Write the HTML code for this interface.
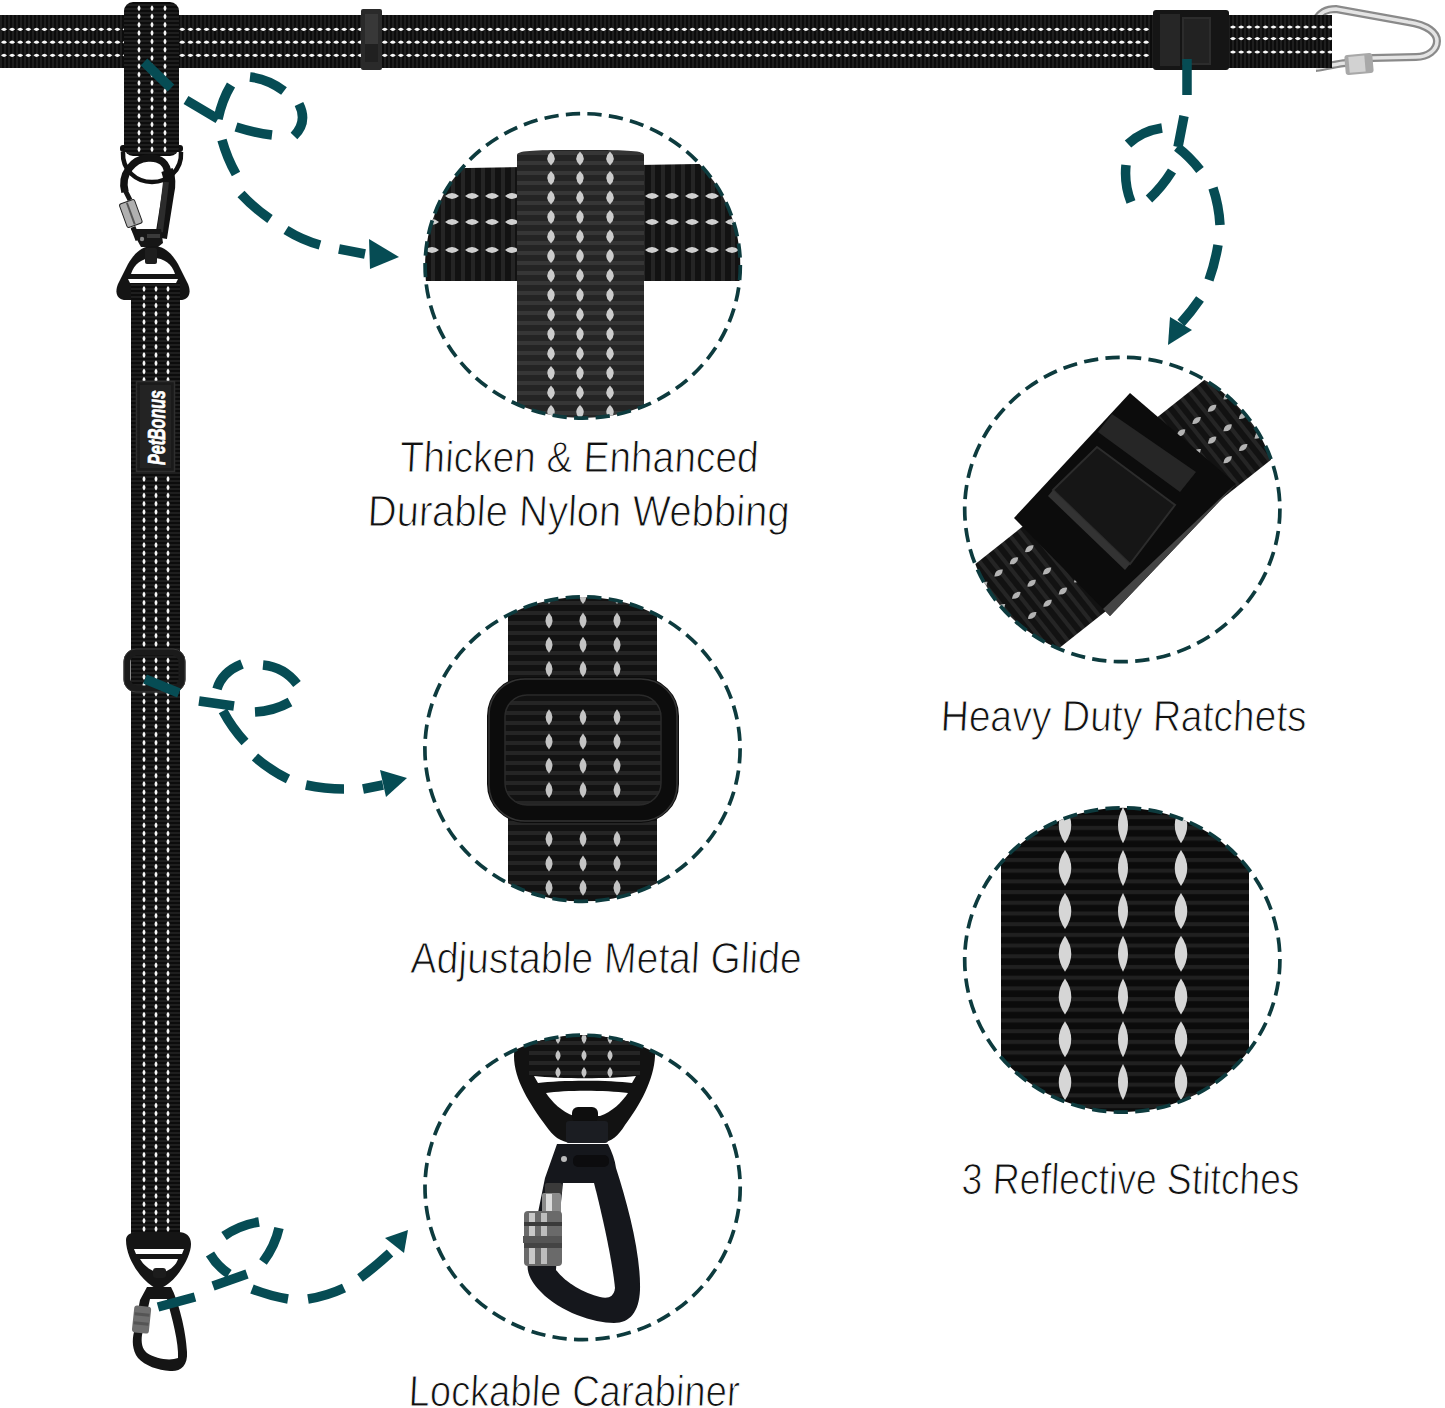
<!DOCTYPE html>
<html><head><meta charset="utf-8">
<style>
html,body{margin:0;padding:0;background:#fff;width:1445px;height:1408px;overflow:hidden}
svg{display:block}
text{font-family:"Liberation Sans",sans-serif}
</style></head>
<body>
<svg width="1445" height="1408" viewBox="0 0 1445 1408">
<defs>
  <pattern id="webH" width="4" height="4" patternUnits="userSpaceOnUse">
    <rect width="4" height="4" fill="#0c0c0c"/><rect width="2" height="4" fill="#1e1e1e"/>
  </pattern>
  <pattern id="webV" width="4" height="4" patternUnits="userSpaceOnUse">
    <rect width="4" height="4" fill="#0c0c0c"/><rect width="4" height="2" fill="#1e1e1e"/>
  </pattern>
  <pattern id="bigV" width="10" height="10" patternUnits="userSpaceOnUse">
    <rect width="10" height="10" fill="#121212"/><rect y="1" width="10" height="4" fill="#252525"/>
  </pattern>
  <pattern id="bigH" width="10" height="10" patternUnits="userSpaceOnUse">
    <rect width="10" height="10" fill="#121212"/><rect x="1" width="4" height="10" fill="#252525"/>
  </pattern>
  <pattern id="hugeV" width="11" height="10.7" patternUnits="userSpaceOnUse">
    <rect width="11" height="10.7" fill="#0b0b0b"/><rect y="2" width="11" height="4" fill="#202020"/>
  </pattern>
  <clipPath id="c1"><ellipse cx="582.7" cy="265.9" rx="157.6" ry="152.2"/></clipPath>
  <clipPath id="c2"><ellipse cx="582.5" cy="749.1" rx="157.6" ry="152.2"/></clipPath>
  <clipPath id="c3"><ellipse cx="582.6" cy="1187.4" rx="157.6" ry="152.2"/></clipPath>
  <clipPath id="c4"><ellipse cx="1122.3" cy="509.5" rx="157.6" ry="152.2"/></clipPath>
  <clipPath id="c5"><ellipse cx="1122.3" cy="960.0" rx="157.6" ry="152.2"/></clipPath>
</defs>

<path d="M1316,20 C1320,12 1326,9 1336,9 L1408,22 C1428,25 1437,33 1437,41 C1437,50 1428,57 1416,57 L1372,58 L1345,63 C1330,65 1320,68 1316,68" fill="none" stroke="#8a8a8a" stroke-width="8"/>
<path d="M1316,20 C1320,12 1326,9 1336,9 L1408,22 C1428,25 1437,33 1437,41 C1437,50 1428,57 1416,57 L1372,58 L1345,63 C1330,65 1320,68 1316,68" fill="none" stroke="#e4e4e4" stroke-width="3.5"/>
<rect x="1345" y="54" width="28" height="20" rx="3" fill="#a8a8a8" transform="rotate(-5 1359 64)"/>
<rect x="1349" y="56" width="16" height="16" fill="#d2d2d2" transform="rotate(-5 1359 64)"/>
<rect x="0" y="15" width="1332" height="53" fill="url(#webH)"/>
<path d="M1.0,29.3 Q4.0,32.5 7.0,29.3 Q4.0,26.1 1.0,29.3Z" fill="#f8f8f8"/><path d="M9.1,29.3 Q12.1,32.5 15.1,29.3 Q12.1,26.1 9.1,29.3Z" fill="#f8f8f8"/><path d="M17.2,29.3 Q20.2,32.5 23.2,29.3 Q20.2,26.1 17.2,29.3Z" fill="#f8f8f8"/><path d="M25.3,29.3 Q28.3,32.5 31.3,29.3 Q28.3,26.1 25.3,29.3Z" fill="#f8f8f8"/><path d="M33.5,29.3 Q36.5,32.5 39.5,29.3 Q36.5,26.1 33.5,29.3Z" fill="#f8f8f8"/><path d="M41.5,29.3 Q44.5,32.5 47.5,29.3 Q44.5,26.1 41.5,29.3Z" fill="#f8f8f8"/><path d="M49.6,29.3 Q52.6,32.5 55.6,29.3 Q52.6,26.1 49.6,29.3Z" fill="#f8f8f8"/><path d="M57.8,29.3 Q60.8,32.5 63.8,29.3 Q60.8,26.1 57.8,29.3Z" fill="#f8f8f8"/><path d="M65.8,29.3 Q68.8,32.5 71.8,29.3 Q68.8,26.1 65.8,29.3Z" fill="#f8f8f8"/><path d="M74.0,29.3 Q77.0,32.5 80.0,29.3 Q77.0,26.1 74.0,29.3Z" fill="#f8f8f8"/><path d="M82.0,29.3 Q85.0,32.5 88.0,29.3 Q85.0,26.1 82.0,29.3Z" fill="#f8f8f8"/><path d="M90.1,29.3 Q93.1,32.5 96.1,29.3 Q93.1,26.1 90.1,29.3Z" fill="#f8f8f8"/><path d="M98.2,29.3 Q101.2,32.5 104.2,29.3 Q101.2,26.1 98.2,29.3Z" fill="#f8f8f8"/><path d="M106.3,29.3 Q109.3,32.5 112.3,29.3 Q109.3,26.1 106.3,29.3Z" fill="#f8f8f8"/><path d="M114.4,29.3 Q117.4,32.5 120.4,29.3 Q117.4,26.1 114.4,29.3Z" fill="#f8f8f8"/><path d="M122.5,29.3 Q125.5,32.5 128.6,29.3 Q125.5,26.1 122.5,29.3Z" fill="#f8f8f8"/><path d="M130.7,29.3 Q133.7,32.5 136.7,29.3 Q133.7,26.1 130.7,29.3Z" fill="#f8f8f8"/><path d="M138.8,29.3 Q141.8,32.5 144.8,29.3 Q141.8,26.1 138.8,29.3Z" fill="#f8f8f8"/><path d="M146.8,29.3 Q149.8,32.5 152.8,29.3 Q149.8,26.1 146.8,29.3Z" fill="#f8f8f8"/><path d="M154.9,29.3 Q157.9,32.5 160.9,29.3 Q157.9,26.1 154.9,29.3Z" fill="#f8f8f8"/><path d="M163.0,29.3 Q166.0,32.5 169.0,29.3 Q166.0,26.1 163.0,29.3Z" fill="#f8f8f8"/><path d="M171.2,29.3 Q174.2,32.5 177.2,29.3 Q174.2,26.1 171.2,29.3Z" fill="#f8f8f8"/><path d="M179.2,29.3 Q182.2,32.5 185.2,29.3 Q182.2,26.1 179.2,29.3Z" fill="#f8f8f8"/><path d="M187.4,29.3 Q190.4,32.5 193.4,29.3 Q190.4,26.1 187.4,29.3Z" fill="#f8f8f8"/><path d="M195.4,29.3 Q198.4,32.5 201.4,29.3 Q198.4,26.1 195.4,29.3Z" fill="#f8f8f8"/><path d="M203.5,29.3 Q206.5,32.5 209.5,29.3 Q206.5,26.1 203.5,29.3Z" fill="#f8f8f8"/><path d="M211.6,29.3 Q214.6,32.5 217.6,29.3 Q214.6,26.1 211.6,29.3Z" fill="#f8f8f8"/><path d="M219.8,29.3 Q222.8,32.5 225.8,29.3 Q222.8,26.1 219.8,29.3Z" fill="#f8f8f8"/><path d="M227.8,29.3 Q230.8,32.5 233.8,29.3 Q230.8,26.1 227.8,29.3Z" fill="#f8f8f8"/><path d="M235.9,29.3 Q238.9,32.5 241.9,29.3 Q238.9,26.1 235.9,29.3Z" fill="#f8f8f8"/><path d="M244.0,29.3 Q247.0,32.5 250.0,29.3 Q247.0,26.1 244.0,29.3Z" fill="#f8f8f8"/><path d="M252.1,29.3 Q255.1,32.5 258.1,29.3 Q255.1,26.1 252.1,29.3Z" fill="#f8f8f8"/><path d="M260.2,29.3 Q263.2,32.5 266.2,29.3 Q263.2,26.1 260.2,29.3Z" fill="#f8f8f8"/><path d="M268.3,29.3 Q271.3,32.5 274.3,29.3 Q271.3,26.1 268.3,29.3Z" fill="#f8f8f8"/><path d="M276.4,29.3 Q279.4,32.5 282.4,29.3 Q279.4,26.1 276.4,29.3Z" fill="#f8f8f8"/><path d="M284.6,29.3 Q287.6,32.5 290.6,29.3 Q287.6,26.1 284.6,29.3Z" fill="#f8f8f8"/><path d="M292.6,29.3 Q295.6,32.5 298.6,29.3 Q295.6,26.1 292.6,29.3Z" fill="#f8f8f8"/><path d="M300.8,29.3 Q303.8,32.5 306.8,29.3 Q303.8,26.1 300.8,29.3Z" fill="#f8f8f8"/><path d="M308.8,29.3 Q311.8,32.5 314.8,29.3 Q311.8,26.1 308.8,29.3Z" fill="#f8f8f8"/><path d="M316.9,29.3 Q319.9,32.5 322.9,29.3 Q319.9,26.1 316.9,29.3Z" fill="#f8f8f8"/><path d="M325.1,29.3 Q328.1,32.5 331.1,29.3 Q328.1,26.1 325.1,29.3Z" fill="#f8f8f8"/><path d="M333.2,29.3 Q336.2,32.5 339.2,29.3 Q336.2,26.1 333.2,29.3Z" fill="#f8f8f8"/><path d="M341.2,29.3 Q344.2,32.5 347.2,29.3 Q344.2,26.1 341.2,29.3Z" fill="#f8f8f8"/><path d="M349.3,29.3 Q352.3,32.5 355.3,29.3 Q352.3,26.1 349.3,29.3Z" fill="#f8f8f8"/><path d="M357.4,29.3 Q360.4,32.5 363.4,29.3 Q360.4,26.1 357.4,29.3Z" fill="#f8f8f8"/><path d="M365.6,29.3 Q368.6,32.5 371.6,29.3 Q368.6,26.1 365.6,29.3Z" fill="#f8f8f8"/><path d="M373.6,29.3 Q376.6,32.5 379.6,29.3 Q376.6,26.1 373.6,29.3Z" fill="#f8f8f8"/><path d="M381.8,29.3 Q384.8,32.5 387.8,29.3 Q384.8,26.1 381.8,29.3Z" fill="#f8f8f8"/><path d="M389.8,29.3 Q392.8,32.5 395.8,29.3 Q392.8,26.1 389.8,29.3Z" fill="#f8f8f8"/><path d="M397.9,29.3 Q400.9,32.5 403.9,29.3 Q400.9,26.1 397.9,29.3Z" fill="#f8f8f8"/><path d="M406.0,29.3 Q409.0,32.5 412.0,29.3 Q409.0,26.1 406.0,29.3Z" fill="#f8f8f8"/><path d="M414.1,29.3 Q417.1,32.5 420.1,29.3 Q417.1,26.1 414.1,29.3Z" fill="#f8f8f8"/><path d="M422.3,29.3 Q425.3,32.5 428.3,29.3 Q425.3,26.1 422.3,29.3Z" fill="#f8f8f8"/><path d="M430.3,29.3 Q433.3,32.5 436.3,29.3 Q433.3,26.1 430.3,29.3Z" fill="#f8f8f8"/><path d="M438.4,29.3 Q441.4,32.5 444.4,29.3 Q441.4,26.1 438.4,29.3Z" fill="#f8f8f8"/><path d="M446.5,29.3 Q449.5,32.5 452.5,29.3 Q449.5,26.1 446.5,29.3Z" fill="#f8f8f8"/><path d="M454.6,29.3 Q457.6,32.5 460.6,29.3 Q457.6,26.1 454.6,29.3Z" fill="#f8f8f8"/><path d="M462.8,29.3 Q465.8,32.5 468.8,29.3 Q465.8,26.1 462.8,29.3Z" fill="#f8f8f8"/><path d="M470.8,29.3 Q473.8,32.5 476.8,29.3 Q473.8,26.1 470.8,29.3Z" fill="#f8f8f8"/><path d="M478.9,29.3 Q481.9,32.5 484.9,29.3 Q481.9,26.1 478.9,29.3Z" fill="#f8f8f8"/><path d="M487.0,29.3 Q490.0,32.5 493.0,29.3 Q490.0,26.1 487.0,29.3Z" fill="#f8f8f8"/><path d="M495.1,29.3 Q498.1,32.5 501.1,29.3 Q498.1,26.1 495.1,29.3Z" fill="#f8f8f8"/><path d="M503.2,29.3 Q506.2,32.5 509.2,29.3 Q506.2,26.1 503.2,29.3Z" fill="#f8f8f8"/><path d="M511.4,29.3 Q514.4,32.5 517.4,29.3 Q514.4,26.1 511.4,29.3Z" fill="#f8f8f8"/><path d="M519.4,29.3 Q522.4,32.5 525.4,29.3 Q522.4,26.1 519.4,29.3Z" fill="#f8f8f8"/><path d="M527.5,29.3 Q530.5,32.5 533.5,29.3 Q530.5,26.1 527.5,29.3Z" fill="#f8f8f8"/><path d="M535.6,29.3 Q538.6,32.5 541.6,29.3 Q538.6,26.1 535.6,29.3Z" fill="#f8f8f8"/><path d="M543.8,29.3 Q546.8,32.5 549.8,29.3 Q546.8,26.1 543.8,29.3Z" fill="#f8f8f8"/><path d="M551.9,29.3 Q554.9,32.5 557.9,29.3 Q554.9,26.1 551.9,29.3Z" fill="#f8f8f8"/><path d="M559.9,29.3 Q562.9,32.5 565.9,29.3 Q562.9,26.1 559.9,29.3Z" fill="#f8f8f8"/><path d="M568.0,29.3 Q571.0,32.5 574.0,29.3 Q571.0,26.1 568.0,29.3Z" fill="#f8f8f8"/><path d="M576.1,29.3 Q579.1,32.5 582.1,29.3 Q579.1,26.1 576.1,29.3Z" fill="#f8f8f8"/><path d="M584.2,29.3 Q587.2,32.5 590.2,29.3 Q587.2,26.1 584.2,29.3Z" fill="#f8f8f8"/><path d="M592.4,29.3 Q595.4,32.5 598.4,29.3 Q595.4,26.1 592.4,29.3Z" fill="#f8f8f8"/><path d="M600.4,29.3 Q603.4,32.5 606.4,29.3 Q603.4,26.1 600.4,29.3Z" fill="#f8f8f8"/><path d="M608.5,29.3 Q611.5,32.5 614.5,29.3 Q611.5,26.1 608.5,29.3Z" fill="#f8f8f8"/><path d="M616.6,29.3 Q619.6,32.5 622.6,29.3 Q619.6,26.1 616.6,29.3Z" fill="#f8f8f8"/><path d="M624.8,29.3 Q627.8,32.5 630.8,29.3 Q627.8,26.1 624.8,29.3Z" fill="#f8f8f8"/><path d="M632.8,29.3 Q635.8,32.5 638.8,29.3 Q635.8,26.1 632.8,29.3Z" fill="#f8f8f8"/><path d="M640.9,29.3 Q643.9,32.5 646.9,29.3 Q643.9,26.1 640.9,29.3Z" fill="#f8f8f8"/><path d="M649.0,29.3 Q652.0,32.5 655.0,29.3 Q652.0,26.1 649.0,29.3Z" fill="#f8f8f8"/><path d="M657.1,29.3 Q660.1,32.5 663.1,29.3 Q660.1,26.1 657.1,29.3Z" fill="#f8f8f8"/><path d="M665.2,29.3 Q668.2,32.5 671.2,29.3 Q668.2,26.1 665.2,29.3Z" fill="#f8f8f8"/><path d="M673.4,29.3 Q676.4,32.5 679.4,29.3 Q676.4,26.1 673.4,29.3Z" fill="#f8f8f8"/><path d="M681.4,29.3 Q684.4,32.5 687.4,29.3 Q684.4,26.1 681.4,29.3Z" fill="#f8f8f8"/><path d="M689.5,29.3 Q692.5,32.5 695.5,29.3 Q692.5,26.1 689.5,29.3Z" fill="#f8f8f8"/><path d="M697.6,29.3 Q700.6,32.5 703.6,29.3 Q700.6,26.1 697.6,29.3Z" fill="#f8f8f8"/><path d="M705.7,29.3 Q708.7,32.5 711.7,29.3 Q708.7,26.1 705.7,29.3Z" fill="#f8f8f8"/><path d="M713.9,29.3 Q716.9,32.5 719.9,29.3 Q716.9,26.1 713.9,29.3Z" fill="#f8f8f8"/><path d="M721.9,29.3 Q724.9,32.5 727.9,29.3 Q724.9,26.1 721.9,29.3Z" fill="#f8f8f8"/><path d="M730.0,29.3 Q733.0,32.5 736.0,29.3 Q733.0,26.1 730.0,29.3Z" fill="#f8f8f8"/><path d="M738.1,29.3 Q741.1,32.5 744.1,29.3 Q741.1,26.1 738.1,29.3Z" fill="#f8f8f8"/><path d="M746.2,29.3 Q749.2,32.5 752.2,29.3 Q749.2,26.1 746.2,29.3Z" fill="#f8f8f8"/><path d="M754.4,29.3 Q757.4,32.5 760.4,29.3 Q757.4,26.1 754.4,29.3Z" fill="#f8f8f8"/><path d="M762.4,29.3 Q765.4,32.5 768.4,29.3 Q765.4,26.1 762.4,29.3Z" fill="#f8f8f8"/><path d="M770.5,29.3 Q773.5,32.5 776.5,29.3 Q773.5,26.1 770.5,29.3Z" fill="#f8f8f8"/><path d="M778.6,29.3 Q781.6,32.5 784.6,29.3 Q781.6,26.1 778.6,29.3Z" fill="#f8f8f8"/><path d="M786.8,29.3 Q789.8,32.5 792.8,29.3 Q789.8,26.1 786.8,29.3Z" fill="#f8f8f8"/><path d="M794.8,29.3 Q797.8,32.5 800.8,29.3 Q797.8,26.1 794.8,29.3Z" fill="#f8f8f8"/><path d="M802.9,29.3 Q805.9,32.5 808.9,29.3 Q805.9,26.1 802.9,29.3Z" fill="#f8f8f8"/><path d="M811.0,29.3 Q814.0,32.5 817.0,29.3 Q814.0,26.1 811.0,29.3Z" fill="#f8f8f8"/><path d="M819.1,29.3 Q822.1,32.5 825.1,29.3 Q822.1,26.1 819.1,29.3Z" fill="#f8f8f8"/><path d="M827.2,29.3 Q830.2,32.5 833.2,29.3 Q830.2,26.1 827.2,29.3Z" fill="#f8f8f8"/><path d="M835.3,29.3 Q838.3,32.5 841.3,29.3 Q838.3,26.1 835.3,29.3Z" fill="#f8f8f8"/><path d="M843.4,29.3 Q846.4,32.5 849.4,29.3 Q846.4,26.1 843.4,29.3Z" fill="#f8f8f8"/><path d="M851.5,29.3 Q854.5,32.5 857.5,29.3 Q854.5,26.1 851.5,29.3Z" fill="#f8f8f8"/><path d="M859.6,29.3 Q862.6,32.5 865.6,29.3 Q862.6,26.1 859.6,29.3Z" fill="#f8f8f8"/><path d="M867.8,29.3 Q870.8,32.5 873.8,29.3 Q870.8,26.1 867.8,29.3Z" fill="#f8f8f8"/><path d="M875.8,29.3 Q878.8,32.5 881.8,29.3 Q878.8,26.1 875.8,29.3Z" fill="#f8f8f8"/><path d="M883.9,29.3 Q886.9,32.5 889.9,29.3 Q886.9,26.1 883.9,29.3Z" fill="#f8f8f8"/><path d="M892.0,29.3 Q895.0,32.5 898.0,29.3 Q895.0,26.1 892.0,29.3Z" fill="#f8f8f8"/><path d="M900.1,29.3 Q903.1,32.5 906.1,29.3 Q903.1,26.1 900.1,29.3Z" fill="#f8f8f8"/><path d="M908.2,29.3 Q911.2,32.5 914.2,29.3 Q911.2,26.1 908.2,29.3Z" fill="#f8f8f8"/><path d="M916.3,29.3 Q919.3,32.5 922.3,29.3 Q919.3,26.1 916.3,29.3Z" fill="#f8f8f8"/><path d="M924.4,29.3 Q927.4,32.5 930.4,29.3 Q927.4,26.1 924.4,29.3Z" fill="#f8f8f8"/><path d="M932.5,29.3 Q935.5,32.5 938.5,29.3 Q935.5,26.1 932.5,29.3Z" fill="#f8f8f8"/><path d="M940.6,29.3 Q943.6,32.5 946.6,29.3 Q943.6,26.1 940.6,29.3Z" fill="#f8f8f8"/><path d="M948.8,29.3 Q951.8,32.5 954.8,29.3 Q951.8,26.1 948.8,29.3Z" fill="#f8f8f8"/><path d="M956.9,29.3 Q959.9,32.5 962.9,29.3 Q959.9,26.1 956.9,29.3Z" fill="#f8f8f8"/><path d="M964.9,29.3 Q967.9,32.5 970.9,29.3 Q967.9,26.1 964.9,29.3Z" fill="#f8f8f8"/><path d="M973.0,29.3 Q976.0,32.5 979.0,29.3 Q976.0,26.1 973.0,29.3Z" fill="#f8f8f8"/><path d="M981.1,29.3 Q984.1,32.5 987.1,29.3 Q984.1,26.1 981.1,29.3Z" fill="#f8f8f8"/><path d="M989.2,29.3 Q992.2,32.5 995.2,29.3 Q992.2,26.1 989.2,29.3Z" fill="#f8f8f8"/><path d="M997.3,29.3 Q1000.3,32.5 1003.3,29.3 Q1000.3,26.1 997.3,29.3Z" fill="#f8f8f8"/><path d="M1005.4,29.3 Q1008.4,32.5 1011.4,29.3 Q1008.4,26.1 1005.4,29.3Z" fill="#f8f8f8"/><path d="M1013.5,29.3 Q1016.5,32.5 1019.5,29.3 Q1016.5,26.1 1013.5,29.3Z" fill="#f8f8f8"/><path d="M1021.6,29.3 Q1024.6,32.5 1027.6,29.3 Q1024.6,26.1 1021.6,29.3Z" fill="#f8f8f8"/><path d="M1029.8,29.3 Q1032.8,32.5 1035.8,29.3 Q1032.8,26.1 1029.8,29.3Z" fill="#f8f8f8"/><path d="M1037.8,29.3 Q1040.8,32.5 1043.8,29.3 Q1040.8,26.1 1037.8,29.3Z" fill="#f8f8f8"/><path d="M1046.0,29.3 Q1049.0,32.5 1052.0,29.3 Q1049.0,26.1 1046.0,29.3Z" fill="#f8f8f8"/><path d="M1054.0,29.3 Q1057.0,32.5 1060.0,29.3 Q1057.0,26.1 1054.0,29.3Z" fill="#f8f8f8"/><path d="M1062.1,29.3 Q1065.1,32.5 1068.1,29.3 Q1065.1,26.1 1062.1,29.3Z" fill="#f8f8f8"/><path d="M1070.2,29.3 Q1073.2,32.5 1076.2,29.3 Q1073.2,26.1 1070.2,29.3Z" fill="#f8f8f8"/><path d="M1078.3,29.3 Q1081.3,32.5 1084.3,29.3 Q1081.3,26.1 1078.3,29.3Z" fill="#f8f8f8"/><path d="M1086.5,29.3 Q1089.5,32.5 1092.5,29.3 Q1089.5,26.1 1086.5,29.3Z" fill="#f8f8f8"/><path d="M1094.5,29.3 Q1097.5,32.5 1100.5,29.3 Q1097.5,26.1 1094.5,29.3Z" fill="#f8f8f8"/><path d="M1102.6,29.3 Q1105.6,32.5 1108.6,29.3 Q1105.6,26.1 1102.6,29.3Z" fill="#f8f8f8"/><path d="M1110.8,29.3 Q1113.8,32.5 1116.8,29.3 Q1113.8,26.1 1110.8,29.3Z" fill="#f8f8f8"/><path d="M1118.8,29.3 Q1121.8,32.5 1124.8,29.3 Q1121.8,26.1 1118.8,29.3Z" fill="#f8f8f8"/><path d="M1127.0,29.3 Q1130.0,32.5 1133.0,29.3 Q1130.0,26.1 1127.0,29.3Z" fill="#f8f8f8"/><path d="M1135.0,29.3 Q1138.0,32.5 1141.0,29.3 Q1138.0,26.1 1135.0,29.3Z" fill="#f8f8f8"/><path d="M1143.1,29.3 Q1146.1,32.5 1149.1,29.3 Q1146.1,26.1 1143.1,29.3Z" fill="#f8f8f8"/>
<path d="M1.0,42.2 Q4.0,45.4 7.0,42.2 Q4.0,39.0 1.0,42.2Z" fill="#f8f8f8"/><path d="M9.1,42.2 Q12.1,45.4 15.1,42.2 Q12.1,39.0 9.1,42.2Z" fill="#f8f8f8"/><path d="M17.2,42.2 Q20.2,45.4 23.2,42.2 Q20.2,39.0 17.2,42.2Z" fill="#f8f8f8"/><path d="M25.3,42.2 Q28.3,45.4 31.3,42.2 Q28.3,39.0 25.3,42.2Z" fill="#f8f8f8"/><path d="M33.5,42.2 Q36.5,45.4 39.5,42.2 Q36.5,39.0 33.5,42.2Z" fill="#f8f8f8"/><path d="M41.5,42.2 Q44.5,45.4 47.5,42.2 Q44.5,39.0 41.5,42.2Z" fill="#f8f8f8"/><path d="M49.6,42.2 Q52.6,45.4 55.6,42.2 Q52.6,39.0 49.6,42.2Z" fill="#f8f8f8"/><path d="M57.8,42.2 Q60.8,45.4 63.8,42.2 Q60.8,39.0 57.8,42.2Z" fill="#f8f8f8"/><path d="M65.8,42.2 Q68.8,45.4 71.8,42.2 Q68.8,39.0 65.8,42.2Z" fill="#f8f8f8"/><path d="M74.0,42.2 Q77.0,45.4 80.0,42.2 Q77.0,39.0 74.0,42.2Z" fill="#f8f8f8"/><path d="M82.0,42.2 Q85.0,45.4 88.0,42.2 Q85.0,39.0 82.0,42.2Z" fill="#f8f8f8"/><path d="M90.1,42.2 Q93.1,45.4 96.1,42.2 Q93.1,39.0 90.1,42.2Z" fill="#f8f8f8"/><path d="M98.2,42.2 Q101.2,45.4 104.2,42.2 Q101.2,39.0 98.2,42.2Z" fill="#f8f8f8"/><path d="M106.3,42.2 Q109.3,45.4 112.3,42.2 Q109.3,39.0 106.3,42.2Z" fill="#f8f8f8"/><path d="M114.4,42.2 Q117.4,45.4 120.4,42.2 Q117.4,39.0 114.4,42.2Z" fill="#f8f8f8"/><path d="M122.5,42.2 Q125.5,45.4 128.6,42.2 Q125.5,39.0 122.5,42.2Z" fill="#f8f8f8"/><path d="M130.7,42.2 Q133.7,45.4 136.7,42.2 Q133.7,39.0 130.7,42.2Z" fill="#f8f8f8"/><path d="M138.8,42.2 Q141.8,45.4 144.8,42.2 Q141.8,39.0 138.8,42.2Z" fill="#f8f8f8"/><path d="M146.8,42.2 Q149.8,45.4 152.8,42.2 Q149.8,39.0 146.8,42.2Z" fill="#f8f8f8"/><path d="M154.9,42.2 Q157.9,45.4 160.9,42.2 Q157.9,39.0 154.9,42.2Z" fill="#f8f8f8"/><path d="M163.0,42.2 Q166.0,45.4 169.0,42.2 Q166.0,39.0 163.0,42.2Z" fill="#f8f8f8"/><path d="M171.2,42.2 Q174.2,45.4 177.2,42.2 Q174.2,39.0 171.2,42.2Z" fill="#f8f8f8"/><path d="M179.2,42.2 Q182.2,45.4 185.2,42.2 Q182.2,39.0 179.2,42.2Z" fill="#f8f8f8"/><path d="M187.4,42.2 Q190.4,45.4 193.4,42.2 Q190.4,39.0 187.4,42.2Z" fill="#f8f8f8"/><path d="M195.4,42.2 Q198.4,45.4 201.4,42.2 Q198.4,39.0 195.4,42.2Z" fill="#f8f8f8"/><path d="M203.5,42.2 Q206.5,45.4 209.5,42.2 Q206.5,39.0 203.5,42.2Z" fill="#f8f8f8"/><path d="M211.6,42.2 Q214.6,45.4 217.6,42.2 Q214.6,39.0 211.6,42.2Z" fill="#f8f8f8"/><path d="M219.8,42.2 Q222.8,45.4 225.8,42.2 Q222.8,39.0 219.8,42.2Z" fill="#f8f8f8"/><path d="M227.8,42.2 Q230.8,45.4 233.8,42.2 Q230.8,39.0 227.8,42.2Z" fill="#f8f8f8"/><path d="M235.9,42.2 Q238.9,45.4 241.9,42.2 Q238.9,39.0 235.9,42.2Z" fill="#f8f8f8"/><path d="M244.0,42.2 Q247.0,45.4 250.0,42.2 Q247.0,39.0 244.0,42.2Z" fill="#f8f8f8"/><path d="M252.1,42.2 Q255.1,45.4 258.1,42.2 Q255.1,39.0 252.1,42.2Z" fill="#f8f8f8"/><path d="M260.2,42.2 Q263.2,45.4 266.2,42.2 Q263.2,39.0 260.2,42.2Z" fill="#f8f8f8"/><path d="M268.3,42.2 Q271.3,45.4 274.3,42.2 Q271.3,39.0 268.3,42.2Z" fill="#f8f8f8"/><path d="M276.4,42.2 Q279.4,45.4 282.4,42.2 Q279.4,39.0 276.4,42.2Z" fill="#f8f8f8"/><path d="M284.6,42.2 Q287.6,45.4 290.6,42.2 Q287.6,39.0 284.6,42.2Z" fill="#f8f8f8"/><path d="M292.6,42.2 Q295.6,45.4 298.6,42.2 Q295.6,39.0 292.6,42.2Z" fill="#f8f8f8"/><path d="M300.8,42.2 Q303.8,45.4 306.8,42.2 Q303.8,39.0 300.8,42.2Z" fill="#f8f8f8"/><path d="M308.8,42.2 Q311.8,45.4 314.8,42.2 Q311.8,39.0 308.8,42.2Z" fill="#f8f8f8"/><path d="M316.9,42.2 Q319.9,45.4 322.9,42.2 Q319.9,39.0 316.9,42.2Z" fill="#f8f8f8"/><path d="M325.1,42.2 Q328.1,45.4 331.1,42.2 Q328.1,39.0 325.1,42.2Z" fill="#f8f8f8"/><path d="M333.2,42.2 Q336.2,45.4 339.2,42.2 Q336.2,39.0 333.2,42.2Z" fill="#f8f8f8"/><path d="M341.2,42.2 Q344.2,45.4 347.2,42.2 Q344.2,39.0 341.2,42.2Z" fill="#f8f8f8"/><path d="M349.3,42.2 Q352.3,45.4 355.3,42.2 Q352.3,39.0 349.3,42.2Z" fill="#f8f8f8"/><path d="M357.4,42.2 Q360.4,45.4 363.4,42.2 Q360.4,39.0 357.4,42.2Z" fill="#f8f8f8"/><path d="M365.6,42.2 Q368.6,45.4 371.6,42.2 Q368.6,39.0 365.6,42.2Z" fill="#f8f8f8"/><path d="M373.6,42.2 Q376.6,45.4 379.6,42.2 Q376.6,39.0 373.6,42.2Z" fill="#f8f8f8"/><path d="M381.8,42.2 Q384.8,45.4 387.8,42.2 Q384.8,39.0 381.8,42.2Z" fill="#f8f8f8"/><path d="M389.8,42.2 Q392.8,45.4 395.8,42.2 Q392.8,39.0 389.8,42.2Z" fill="#f8f8f8"/><path d="M397.9,42.2 Q400.9,45.4 403.9,42.2 Q400.9,39.0 397.9,42.2Z" fill="#f8f8f8"/><path d="M406.0,42.2 Q409.0,45.4 412.0,42.2 Q409.0,39.0 406.0,42.2Z" fill="#f8f8f8"/><path d="M414.1,42.2 Q417.1,45.4 420.1,42.2 Q417.1,39.0 414.1,42.2Z" fill="#f8f8f8"/><path d="M422.3,42.2 Q425.3,45.4 428.3,42.2 Q425.3,39.0 422.3,42.2Z" fill="#f8f8f8"/><path d="M430.3,42.2 Q433.3,45.4 436.3,42.2 Q433.3,39.0 430.3,42.2Z" fill="#f8f8f8"/><path d="M438.4,42.2 Q441.4,45.4 444.4,42.2 Q441.4,39.0 438.4,42.2Z" fill="#f8f8f8"/><path d="M446.5,42.2 Q449.5,45.4 452.5,42.2 Q449.5,39.0 446.5,42.2Z" fill="#f8f8f8"/><path d="M454.6,42.2 Q457.6,45.4 460.6,42.2 Q457.6,39.0 454.6,42.2Z" fill="#f8f8f8"/><path d="M462.8,42.2 Q465.8,45.4 468.8,42.2 Q465.8,39.0 462.8,42.2Z" fill="#f8f8f8"/><path d="M470.8,42.2 Q473.8,45.4 476.8,42.2 Q473.8,39.0 470.8,42.2Z" fill="#f8f8f8"/><path d="M478.9,42.2 Q481.9,45.4 484.9,42.2 Q481.9,39.0 478.9,42.2Z" fill="#f8f8f8"/><path d="M487.0,42.2 Q490.0,45.4 493.0,42.2 Q490.0,39.0 487.0,42.2Z" fill="#f8f8f8"/><path d="M495.1,42.2 Q498.1,45.4 501.1,42.2 Q498.1,39.0 495.1,42.2Z" fill="#f8f8f8"/><path d="M503.2,42.2 Q506.2,45.4 509.2,42.2 Q506.2,39.0 503.2,42.2Z" fill="#f8f8f8"/><path d="M511.4,42.2 Q514.4,45.4 517.4,42.2 Q514.4,39.0 511.4,42.2Z" fill="#f8f8f8"/><path d="M519.4,42.2 Q522.4,45.4 525.4,42.2 Q522.4,39.0 519.4,42.2Z" fill="#f8f8f8"/><path d="M527.5,42.2 Q530.5,45.4 533.5,42.2 Q530.5,39.0 527.5,42.2Z" fill="#f8f8f8"/><path d="M535.6,42.2 Q538.6,45.4 541.6,42.2 Q538.6,39.0 535.6,42.2Z" fill="#f8f8f8"/><path d="M543.8,42.2 Q546.8,45.4 549.8,42.2 Q546.8,39.0 543.8,42.2Z" fill="#f8f8f8"/><path d="M551.9,42.2 Q554.9,45.4 557.9,42.2 Q554.9,39.0 551.9,42.2Z" fill="#f8f8f8"/><path d="M559.9,42.2 Q562.9,45.4 565.9,42.2 Q562.9,39.0 559.9,42.2Z" fill="#f8f8f8"/><path d="M568.0,42.2 Q571.0,45.4 574.0,42.2 Q571.0,39.0 568.0,42.2Z" fill="#f8f8f8"/><path d="M576.1,42.2 Q579.1,45.4 582.1,42.2 Q579.1,39.0 576.1,42.2Z" fill="#f8f8f8"/><path d="M584.2,42.2 Q587.2,45.4 590.2,42.2 Q587.2,39.0 584.2,42.2Z" fill="#f8f8f8"/><path d="M592.4,42.2 Q595.4,45.4 598.4,42.2 Q595.4,39.0 592.4,42.2Z" fill="#f8f8f8"/><path d="M600.4,42.2 Q603.4,45.4 606.4,42.2 Q603.4,39.0 600.4,42.2Z" fill="#f8f8f8"/><path d="M608.5,42.2 Q611.5,45.4 614.5,42.2 Q611.5,39.0 608.5,42.2Z" fill="#f8f8f8"/><path d="M616.6,42.2 Q619.6,45.4 622.6,42.2 Q619.6,39.0 616.6,42.2Z" fill="#f8f8f8"/><path d="M624.8,42.2 Q627.8,45.4 630.8,42.2 Q627.8,39.0 624.8,42.2Z" fill="#f8f8f8"/><path d="M632.8,42.2 Q635.8,45.4 638.8,42.2 Q635.8,39.0 632.8,42.2Z" fill="#f8f8f8"/><path d="M640.9,42.2 Q643.9,45.4 646.9,42.2 Q643.9,39.0 640.9,42.2Z" fill="#f8f8f8"/><path d="M649.0,42.2 Q652.0,45.4 655.0,42.2 Q652.0,39.0 649.0,42.2Z" fill="#f8f8f8"/><path d="M657.1,42.2 Q660.1,45.4 663.1,42.2 Q660.1,39.0 657.1,42.2Z" fill="#f8f8f8"/><path d="M665.2,42.2 Q668.2,45.4 671.2,42.2 Q668.2,39.0 665.2,42.2Z" fill="#f8f8f8"/><path d="M673.4,42.2 Q676.4,45.4 679.4,42.2 Q676.4,39.0 673.4,42.2Z" fill="#f8f8f8"/><path d="M681.4,42.2 Q684.4,45.4 687.4,42.2 Q684.4,39.0 681.4,42.2Z" fill="#f8f8f8"/><path d="M689.5,42.2 Q692.5,45.4 695.5,42.2 Q692.5,39.0 689.5,42.2Z" fill="#f8f8f8"/><path d="M697.6,42.2 Q700.6,45.4 703.6,42.2 Q700.6,39.0 697.6,42.2Z" fill="#f8f8f8"/><path d="M705.7,42.2 Q708.7,45.4 711.7,42.2 Q708.7,39.0 705.7,42.2Z" fill="#f8f8f8"/><path d="M713.9,42.2 Q716.9,45.4 719.9,42.2 Q716.9,39.0 713.9,42.2Z" fill="#f8f8f8"/><path d="M721.9,42.2 Q724.9,45.4 727.9,42.2 Q724.9,39.0 721.9,42.2Z" fill="#f8f8f8"/><path d="M730.0,42.2 Q733.0,45.4 736.0,42.2 Q733.0,39.0 730.0,42.2Z" fill="#f8f8f8"/><path d="M738.1,42.2 Q741.1,45.4 744.1,42.2 Q741.1,39.0 738.1,42.2Z" fill="#f8f8f8"/><path d="M746.2,42.2 Q749.2,45.4 752.2,42.2 Q749.2,39.0 746.2,42.2Z" fill="#f8f8f8"/><path d="M754.4,42.2 Q757.4,45.4 760.4,42.2 Q757.4,39.0 754.4,42.2Z" fill="#f8f8f8"/><path d="M762.4,42.2 Q765.4,45.4 768.4,42.2 Q765.4,39.0 762.4,42.2Z" fill="#f8f8f8"/><path d="M770.5,42.2 Q773.5,45.4 776.5,42.2 Q773.5,39.0 770.5,42.2Z" fill="#f8f8f8"/><path d="M778.6,42.2 Q781.6,45.4 784.6,42.2 Q781.6,39.0 778.6,42.2Z" fill="#f8f8f8"/><path d="M786.8,42.2 Q789.8,45.4 792.8,42.2 Q789.8,39.0 786.8,42.2Z" fill="#f8f8f8"/><path d="M794.8,42.2 Q797.8,45.4 800.8,42.2 Q797.8,39.0 794.8,42.2Z" fill="#f8f8f8"/><path d="M802.9,42.2 Q805.9,45.4 808.9,42.2 Q805.9,39.0 802.9,42.2Z" fill="#f8f8f8"/><path d="M811.0,42.2 Q814.0,45.4 817.0,42.2 Q814.0,39.0 811.0,42.2Z" fill="#f8f8f8"/><path d="M819.1,42.2 Q822.1,45.4 825.1,42.2 Q822.1,39.0 819.1,42.2Z" fill="#f8f8f8"/><path d="M827.2,42.2 Q830.2,45.4 833.2,42.2 Q830.2,39.0 827.2,42.2Z" fill="#f8f8f8"/><path d="M835.3,42.2 Q838.3,45.4 841.3,42.2 Q838.3,39.0 835.3,42.2Z" fill="#f8f8f8"/><path d="M843.4,42.2 Q846.4,45.4 849.4,42.2 Q846.4,39.0 843.4,42.2Z" fill="#f8f8f8"/><path d="M851.5,42.2 Q854.5,45.4 857.5,42.2 Q854.5,39.0 851.5,42.2Z" fill="#f8f8f8"/><path d="M859.6,42.2 Q862.6,45.4 865.6,42.2 Q862.6,39.0 859.6,42.2Z" fill="#f8f8f8"/><path d="M867.8,42.2 Q870.8,45.4 873.8,42.2 Q870.8,39.0 867.8,42.2Z" fill="#f8f8f8"/><path d="M875.8,42.2 Q878.8,45.4 881.8,42.2 Q878.8,39.0 875.8,42.2Z" fill="#f8f8f8"/><path d="M883.9,42.2 Q886.9,45.4 889.9,42.2 Q886.9,39.0 883.9,42.2Z" fill="#f8f8f8"/><path d="M892.0,42.2 Q895.0,45.4 898.0,42.2 Q895.0,39.0 892.0,42.2Z" fill="#f8f8f8"/><path d="M900.1,42.2 Q903.1,45.4 906.1,42.2 Q903.1,39.0 900.1,42.2Z" fill="#f8f8f8"/><path d="M908.2,42.2 Q911.2,45.4 914.2,42.2 Q911.2,39.0 908.2,42.2Z" fill="#f8f8f8"/><path d="M916.3,42.2 Q919.3,45.4 922.3,42.2 Q919.3,39.0 916.3,42.2Z" fill="#f8f8f8"/><path d="M924.4,42.2 Q927.4,45.4 930.4,42.2 Q927.4,39.0 924.4,42.2Z" fill="#f8f8f8"/><path d="M932.5,42.2 Q935.5,45.4 938.5,42.2 Q935.5,39.0 932.5,42.2Z" fill="#f8f8f8"/><path d="M940.6,42.2 Q943.6,45.4 946.6,42.2 Q943.6,39.0 940.6,42.2Z" fill="#f8f8f8"/><path d="M948.8,42.2 Q951.8,45.4 954.8,42.2 Q951.8,39.0 948.8,42.2Z" fill="#f8f8f8"/><path d="M956.9,42.2 Q959.9,45.4 962.9,42.2 Q959.9,39.0 956.9,42.2Z" fill="#f8f8f8"/><path d="M964.9,42.2 Q967.9,45.4 970.9,42.2 Q967.9,39.0 964.9,42.2Z" fill="#f8f8f8"/><path d="M973.0,42.2 Q976.0,45.4 979.0,42.2 Q976.0,39.0 973.0,42.2Z" fill="#f8f8f8"/><path d="M981.1,42.2 Q984.1,45.4 987.1,42.2 Q984.1,39.0 981.1,42.2Z" fill="#f8f8f8"/><path d="M989.2,42.2 Q992.2,45.4 995.2,42.2 Q992.2,39.0 989.2,42.2Z" fill="#f8f8f8"/><path d="M997.3,42.2 Q1000.3,45.4 1003.3,42.2 Q1000.3,39.0 997.3,42.2Z" fill="#f8f8f8"/><path d="M1005.4,42.2 Q1008.4,45.4 1011.4,42.2 Q1008.4,39.0 1005.4,42.2Z" fill="#f8f8f8"/><path d="M1013.5,42.2 Q1016.5,45.4 1019.5,42.2 Q1016.5,39.0 1013.5,42.2Z" fill="#f8f8f8"/><path d="M1021.6,42.2 Q1024.6,45.4 1027.6,42.2 Q1024.6,39.0 1021.6,42.2Z" fill="#f8f8f8"/><path d="M1029.8,42.2 Q1032.8,45.4 1035.8,42.2 Q1032.8,39.0 1029.8,42.2Z" fill="#f8f8f8"/><path d="M1037.8,42.2 Q1040.8,45.4 1043.8,42.2 Q1040.8,39.0 1037.8,42.2Z" fill="#f8f8f8"/><path d="M1046.0,42.2 Q1049.0,45.4 1052.0,42.2 Q1049.0,39.0 1046.0,42.2Z" fill="#f8f8f8"/><path d="M1054.0,42.2 Q1057.0,45.4 1060.0,42.2 Q1057.0,39.0 1054.0,42.2Z" fill="#f8f8f8"/><path d="M1062.1,42.2 Q1065.1,45.4 1068.1,42.2 Q1065.1,39.0 1062.1,42.2Z" fill="#f8f8f8"/><path d="M1070.2,42.2 Q1073.2,45.4 1076.2,42.2 Q1073.2,39.0 1070.2,42.2Z" fill="#f8f8f8"/><path d="M1078.3,42.2 Q1081.3,45.4 1084.3,42.2 Q1081.3,39.0 1078.3,42.2Z" fill="#f8f8f8"/><path d="M1086.5,42.2 Q1089.5,45.4 1092.5,42.2 Q1089.5,39.0 1086.5,42.2Z" fill="#f8f8f8"/><path d="M1094.5,42.2 Q1097.5,45.4 1100.5,42.2 Q1097.5,39.0 1094.5,42.2Z" fill="#f8f8f8"/><path d="M1102.6,42.2 Q1105.6,45.4 1108.6,42.2 Q1105.6,39.0 1102.6,42.2Z" fill="#f8f8f8"/><path d="M1110.8,42.2 Q1113.8,45.4 1116.8,42.2 Q1113.8,39.0 1110.8,42.2Z" fill="#f8f8f8"/><path d="M1118.8,42.2 Q1121.8,45.4 1124.8,42.2 Q1121.8,39.0 1118.8,42.2Z" fill="#f8f8f8"/><path d="M1127.0,42.2 Q1130.0,45.4 1133.0,42.2 Q1130.0,39.0 1127.0,42.2Z" fill="#f8f8f8"/><path d="M1135.0,42.2 Q1138.0,45.4 1141.0,42.2 Q1138.0,39.0 1135.0,42.2Z" fill="#f8f8f8"/><path d="M1143.1,42.2 Q1146.1,45.4 1149.1,42.2 Q1146.1,39.0 1143.1,42.2Z" fill="#f8f8f8"/>
<path d="M1.0,55.3 Q4.0,58.5 7.0,55.3 Q4.0,52.1 1.0,55.3Z" fill="#f8f8f8"/><path d="M9.1,55.3 Q12.1,58.5 15.1,55.3 Q12.1,52.1 9.1,55.3Z" fill="#f8f8f8"/><path d="M17.2,55.3 Q20.2,58.5 23.2,55.3 Q20.2,52.1 17.2,55.3Z" fill="#f8f8f8"/><path d="M25.3,55.3 Q28.3,58.5 31.3,55.3 Q28.3,52.1 25.3,55.3Z" fill="#f8f8f8"/><path d="M33.5,55.3 Q36.5,58.5 39.5,55.3 Q36.5,52.1 33.5,55.3Z" fill="#f8f8f8"/><path d="M41.5,55.3 Q44.5,58.5 47.5,55.3 Q44.5,52.1 41.5,55.3Z" fill="#f8f8f8"/><path d="M49.6,55.3 Q52.6,58.5 55.6,55.3 Q52.6,52.1 49.6,55.3Z" fill="#f8f8f8"/><path d="M57.8,55.3 Q60.8,58.5 63.8,55.3 Q60.8,52.1 57.8,55.3Z" fill="#f8f8f8"/><path d="M65.8,55.3 Q68.8,58.5 71.8,55.3 Q68.8,52.1 65.8,55.3Z" fill="#f8f8f8"/><path d="M74.0,55.3 Q77.0,58.5 80.0,55.3 Q77.0,52.1 74.0,55.3Z" fill="#f8f8f8"/><path d="M82.0,55.3 Q85.0,58.5 88.0,55.3 Q85.0,52.1 82.0,55.3Z" fill="#f8f8f8"/><path d="M90.1,55.3 Q93.1,58.5 96.1,55.3 Q93.1,52.1 90.1,55.3Z" fill="#f8f8f8"/><path d="M98.2,55.3 Q101.2,58.5 104.2,55.3 Q101.2,52.1 98.2,55.3Z" fill="#f8f8f8"/><path d="M106.3,55.3 Q109.3,58.5 112.3,55.3 Q109.3,52.1 106.3,55.3Z" fill="#f8f8f8"/><path d="M114.4,55.3 Q117.4,58.5 120.4,55.3 Q117.4,52.1 114.4,55.3Z" fill="#f8f8f8"/><path d="M122.5,55.3 Q125.5,58.5 128.6,55.3 Q125.5,52.1 122.5,55.3Z" fill="#f8f8f8"/><path d="M130.7,55.3 Q133.7,58.5 136.7,55.3 Q133.7,52.1 130.7,55.3Z" fill="#f8f8f8"/><path d="M138.8,55.3 Q141.8,58.5 144.8,55.3 Q141.8,52.1 138.8,55.3Z" fill="#f8f8f8"/><path d="M146.8,55.3 Q149.8,58.5 152.8,55.3 Q149.8,52.1 146.8,55.3Z" fill="#f8f8f8"/><path d="M154.9,55.3 Q157.9,58.5 160.9,55.3 Q157.9,52.1 154.9,55.3Z" fill="#f8f8f8"/><path d="M163.0,55.3 Q166.0,58.5 169.0,55.3 Q166.0,52.1 163.0,55.3Z" fill="#f8f8f8"/><path d="M171.2,55.3 Q174.2,58.5 177.2,55.3 Q174.2,52.1 171.2,55.3Z" fill="#f8f8f8"/><path d="M179.2,55.3 Q182.2,58.5 185.2,55.3 Q182.2,52.1 179.2,55.3Z" fill="#f8f8f8"/><path d="M187.4,55.3 Q190.4,58.5 193.4,55.3 Q190.4,52.1 187.4,55.3Z" fill="#f8f8f8"/><path d="M195.4,55.3 Q198.4,58.5 201.4,55.3 Q198.4,52.1 195.4,55.3Z" fill="#f8f8f8"/><path d="M203.5,55.3 Q206.5,58.5 209.5,55.3 Q206.5,52.1 203.5,55.3Z" fill="#f8f8f8"/><path d="M211.6,55.3 Q214.6,58.5 217.6,55.3 Q214.6,52.1 211.6,55.3Z" fill="#f8f8f8"/><path d="M219.8,55.3 Q222.8,58.5 225.8,55.3 Q222.8,52.1 219.8,55.3Z" fill="#f8f8f8"/><path d="M227.8,55.3 Q230.8,58.5 233.8,55.3 Q230.8,52.1 227.8,55.3Z" fill="#f8f8f8"/><path d="M235.9,55.3 Q238.9,58.5 241.9,55.3 Q238.9,52.1 235.9,55.3Z" fill="#f8f8f8"/><path d="M244.0,55.3 Q247.0,58.5 250.0,55.3 Q247.0,52.1 244.0,55.3Z" fill="#f8f8f8"/><path d="M252.1,55.3 Q255.1,58.5 258.1,55.3 Q255.1,52.1 252.1,55.3Z" fill="#f8f8f8"/><path d="M260.2,55.3 Q263.2,58.5 266.2,55.3 Q263.2,52.1 260.2,55.3Z" fill="#f8f8f8"/><path d="M268.3,55.3 Q271.3,58.5 274.3,55.3 Q271.3,52.1 268.3,55.3Z" fill="#f8f8f8"/><path d="M276.4,55.3 Q279.4,58.5 282.4,55.3 Q279.4,52.1 276.4,55.3Z" fill="#f8f8f8"/><path d="M284.6,55.3 Q287.6,58.5 290.6,55.3 Q287.6,52.1 284.6,55.3Z" fill="#f8f8f8"/><path d="M292.6,55.3 Q295.6,58.5 298.6,55.3 Q295.6,52.1 292.6,55.3Z" fill="#f8f8f8"/><path d="M300.8,55.3 Q303.8,58.5 306.8,55.3 Q303.8,52.1 300.8,55.3Z" fill="#f8f8f8"/><path d="M308.8,55.3 Q311.8,58.5 314.8,55.3 Q311.8,52.1 308.8,55.3Z" fill="#f8f8f8"/><path d="M316.9,55.3 Q319.9,58.5 322.9,55.3 Q319.9,52.1 316.9,55.3Z" fill="#f8f8f8"/><path d="M325.1,55.3 Q328.1,58.5 331.1,55.3 Q328.1,52.1 325.1,55.3Z" fill="#f8f8f8"/><path d="M333.2,55.3 Q336.2,58.5 339.2,55.3 Q336.2,52.1 333.2,55.3Z" fill="#f8f8f8"/><path d="M341.2,55.3 Q344.2,58.5 347.2,55.3 Q344.2,52.1 341.2,55.3Z" fill="#f8f8f8"/><path d="M349.3,55.3 Q352.3,58.5 355.3,55.3 Q352.3,52.1 349.3,55.3Z" fill="#f8f8f8"/><path d="M357.4,55.3 Q360.4,58.5 363.4,55.3 Q360.4,52.1 357.4,55.3Z" fill="#f8f8f8"/><path d="M365.6,55.3 Q368.6,58.5 371.6,55.3 Q368.6,52.1 365.6,55.3Z" fill="#f8f8f8"/><path d="M373.6,55.3 Q376.6,58.5 379.6,55.3 Q376.6,52.1 373.6,55.3Z" fill="#f8f8f8"/><path d="M381.8,55.3 Q384.8,58.5 387.8,55.3 Q384.8,52.1 381.8,55.3Z" fill="#f8f8f8"/><path d="M389.8,55.3 Q392.8,58.5 395.8,55.3 Q392.8,52.1 389.8,55.3Z" fill="#f8f8f8"/><path d="M397.9,55.3 Q400.9,58.5 403.9,55.3 Q400.9,52.1 397.9,55.3Z" fill="#f8f8f8"/><path d="M406.0,55.3 Q409.0,58.5 412.0,55.3 Q409.0,52.1 406.0,55.3Z" fill="#f8f8f8"/><path d="M414.1,55.3 Q417.1,58.5 420.1,55.3 Q417.1,52.1 414.1,55.3Z" fill="#f8f8f8"/><path d="M422.3,55.3 Q425.3,58.5 428.3,55.3 Q425.3,52.1 422.3,55.3Z" fill="#f8f8f8"/><path d="M430.3,55.3 Q433.3,58.5 436.3,55.3 Q433.3,52.1 430.3,55.3Z" fill="#f8f8f8"/><path d="M438.4,55.3 Q441.4,58.5 444.4,55.3 Q441.4,52.1 438.4,55.3Z" fill="#f8f8f8"/><path d="M446.5,55.3 Q449.5,58.5 452.5,55.3 Q449.5,52.1 446.5,55.3Z" fill="#f8f8f8"/><path d="M454.6,55.3 Q457.6,58.5 460.6,55.3 Q457.6,52.1 454.6,55.3Z" fill="#f8f8f8"/><path d="M462.8,55.3 Q465.8,58.5 468.8,55.3 Q465.8,52.1 462.8,55.3Z" fill="#f8f8f8"/><path d="M470.8,55.3 Q473.8,58.5 476.8,55.3 Q473.8,52.1 470.8,55.3Z" fill="#f8f8f8"/><path d="M478.9,55.3 Q481.9,58.5 484.9,55.3 Q481.9,52.1 478.9,55.3Z" fill="#f8f8f8"/><path d="M487.0,55.3 Q490.0,58.5 493.0,55.3 Q490.0,52.1 487.0,55.3Z" fill="#f8f8f8"/><path d="M495.1,55.3 Q498.1,58.5 501.1,55.3 Q498.1,52.1 495.1,55.3Z" fill="#f8f8f8"/><path d="M503.2,55.3 Q506.2,58.5 509.2,55.3 Q506.2,52.1 503.2,55.3Z" fill="#f8f8f8"/><path d="M511.4,55.3 Q514.4,58.5 517.4,55.3 Q514.4,52.1 511.4,55.3Z" fill="#f8f8f8"/><path d="M519.4,55.3 Q522.4,58.5 525.4,55.3 Q522.4,52.1 519.4,55.3Z" fill="#f8f8f8"/><path d="M527.5,55.3 Q530.5,58.5 533.5,55.3 Q530.5,52.1 527.5,55.3Z" fill="#f8f8f8"/><path d="M535.6,55.3 Q538.6,58.5 541.6,55.3 Q538.6,52.1 535.6,55.3Z" fill="#f8f8f8"/><path d="M543.8,55.3 Q546.8,58.5 549.8,55.3 Q546.8,52.1 543.8,55.3Z" fill="#f8f8f8"/><path d="M551.9,55.3 Q554.9,58.5 557.9,55.3 Q554.9,52.1 551.9,55.3Z" fill="#f8f8f8"/><path d="M559.9,55.3 Q562.9,58.5 565.9,55.3 Q562.9,52.1 559.9,55.3Z" fill="#f8f8f8"/><path d="M568.0,55.3 Q571.0,58.5 574.0,55.3 Q571.0,52.1 568.0,55.3Z" fill="#f8f8f8"/><path d="M576.1,55.3 Q579.1,58.5 582.1,55.3 Q579.1,52.1 576.1,55.3Z" fill="#f8f8f8"/><path d="M584.2,55.3 Q587.2,58.5 590.2,55.3 Q587.2,52.1 584.2,55.3Z" fill="#f8f8f8"/><path d="M592.4,55.3 Q595.4,58.5 598.4,55.3 Q595.4,52.1 592.4,55.3Z" fill="#f8f8f8"/><path d="M600.4,55.3 Q603.4,58.5 606.4,55.3 Q603.4,52.1 600.4,55.3Z" fill="#f8f8f8"/><path d="M608.5,55.3 Q611.5,58.5 614.5,55.3 Q611.5,52.1 608.5,55.3Z" fill="#f8f8f8"/><path d="M616.6,55.3 Q619.6,58.5 622.6,55.3 Q619.6,52.1 616.6,55.3Z" fill="#f8f8f8"/><path d="M624.8,55.3 Q627.8,58.5 630.8,55.3 Q627.8,52.1 624.8,55.3Z" fill="#f8f8f8"/><path d="M632.8,55.3 Q635.8,58.5 638.8,55.3 Q635.8,52.1 632.8,55.3Z" fill="#f8f8f8"/><path d="M640.9,55.3 Q643.9,58.5 646.9,55.3 Q643.9,52.1 640.9,55.3Z" fill="#f8f8f8"/><path d="M649.0,55.3 Q652.0,58.5 655.0,55.3 Q652.0,52.1 649.0,55.3Z" fill="#f8f8f8"/><path d="M657.1,55.3 Q660.1,58.5 663.1,55.3 Q660.1,52.1 657.1,55.3Z" fill="#f8f8f8"/><path d="M665.2,55.3 Q668.2,58.5 671.2,55.3 Q668.2,52.1 665.2,55.3Z" fill="#f8f8f8"/><path d="M673.4,55.3 Q676.4,58.5 679.4,55.3 Q676.4,52.1 673.4,55.3Z" fill="#f8f8f8"/><path d="M681.4,55.3 Q684.4,58.5 687.4,55.3 Q684.4,52.1 681.4,55.3Z" fill="#f8f8f8"/><path d="M689.5,55.3 Q692.5,58.5 695.5,55.3 Q692.5,52.1 689.5,55.3Z" fill="#f8f8f8"/><path d="M697.6,55.3 Q700.6,58.5 703.6,55.3 Q700.6,52.1 697.6,55.3Z" fill="#f8f8f8"/><path d="M705.7,55.3 Q708.7,58.5 711.7,55.3 Q708.7,52.1 705.7,55.3Z" fill="#f8f8f8"/><path d="M713.9,55.3 Q716.9,58.5 719.9,55.3 Q716.9,52.1 713.9,55.3Z" fill="#f8f8f8"/><path d="M721.9,55.3 Q724.9,58.5 727.9,55.3 Q724.9,52.1 721.9,55.3Z" fill="#f8f8f8"/><path d="M730.0,55.3 Q733.0,58.5 736.0,55.3 Q733.0,52.1 730.0,55.3Z" fill="#f8f8f8"/><path d="M738.1,55.3 Q741.1,58.5 744.1,55.3 Q741.1,52.1 738.1,55.3Z" fill="#f8f8f8"/><path d="M746.2,55.3 Q749.2,58.5 752.2,55.3 Q749.2,52.1 746.2,55.3Z" fill="#f8f8f8"/><path d="M754.4,55.3 Q757.4,58.5 760.4,55.3 Q757.4,52.1 754.4,55.3Z" fill="#f8f8f8"/><path d="M762.4,55.3 Q765.4,58.5 768.4,55.3 Q765.4,52.1 762.4,55.3Z" fill="#f8f8f8"/><path d="M770.5,55.3 Q773.5,58.5 776.5,55.3 Q773.5,52.1 770.5,55.3Z" fill="#f8f8f8"/><path d="M778.6,55.3 Q781.6,58.5 784.6,55.3 Q781.6,52.1 778.6,55.3Z" fill="#f8f8f8"/><path d="M786.8,55.3 Q789.8,58.5 792.8,55.3 Q789.8,52.1 786.8,55.3Z" fill="#f8f8f8"/><path d="M794.8,55.3 Q797.8,58.5 800.8,55.3 Q797.8,52.1 794.8,55.3Z" fill="#f8f8f8"/><path d="M802.9,55.3 Q805.9,58.5 808.9,55.3 Q805.9,52.1 802.9,55.3Z" fill="#f8f8f8"/><path d="M811.0,55.3 Q814.0,58.5 817.0,55.3 Q814.0,52.1 811.0,55.3Z" fill="#f8f8f8"/><path d="M819.1,55.3 Q822.1,58.5 825.1,55.3 Q822.1,52.1 819.1,55.3Z" fill="#f8f8f8"/><path d="M827.2,55.3 Q830.2,58.5 833.2,55.3 Q830.2,52.1 827.2,55.3Z" fill="#f8f8f8"/><path d="M835.3,55.3 Q838.3,58.5 841.3,55.3 Q838.3,52.1 835.3,55.3Z" fill="#f8f8f8"/><path d="M843.4,55.3 Q846.4,58.5 849.4,55.3 Q846.4,52.1 843.4,55.3Z" fill="#f8f8f8"/><path d="M851.5,55.3 Q854.5,58.5 857.5,55.3 Q854.5,52.1 851.5,55.3Z" fill="#f8f8f8"/><path d="M859.6,55.3 Q862.6,58.5 865.6,55.3 Q862.6,52.1 859.6,55.3Z" fill="#f8f8f8"/><path d="M867.8,55.3 Q870.8,58.5 873.8,55.3 Q870.8,52.1 867.8,55.3Z" fill="#f8f8f8"/><path d="M875.8,55.3 Q878.8,58.5 881.8,55.3 Q878.8,52.1 875.8,55.3Z" fill="#f8f8f8"/><path d="M883.9,55.3 Q886.9,58.5 889.9,55.3 Q886.9,52.1 883.9,55.3Z" fill="#f8f8f8"/><path d="M892.0,55.3 Q895.0,58.5 898.0,55.3 Q895.0,52.1 892.0,55.3Z" fill="#f8f8f8"/><path d="M900.1,55.3 Q903.1,58.5 906.1,55.3 Q903.1,52.1 900.1,55.3Z" fill="#f8f8f8"/><path d="M908.2,55.3 Q911.2,58.5 914.2,55.3 Q911.2,52.1 908.2,55.3Z" fill="#f8f8f8"/><path d="M916.3,55.3 Q919.3,58.5 922.3,55.3 Q919.3,52.1 916.3,55.3Z" fill="#f8f8f8"/><path d="M924.4,55.3 Q927.4,58.5 930.4,55.3 Q927.4,52.1 924.4,55.3Z" fill="#f8f8f8"/><path d="M932.5,55.3 Q935.5,58.5 938.5,55.3 Q935.5,52.1 932.5,55.3Z" fill="#f8f8f8"/><path d="M940.6,55.3 Q943.6,58.5 946.6,55.3 Q943.6,52.1 940.6,55.3Z" fill="#f8f8f8"/><path d="M948.8,55.3 Q951.8,58.5 954.8,55.3 Q951.8,52.1 948.8,55.3Z" fill="#f8f8f8"/><path d="M956.9,55.3 Q959.9,58.5 962.9,55.3 Q959.9,52.1 956.9,55.3Z" fill="#f8f8f8"/><path d="M964.9,55.3 Q967.9,58.5 970.9,55.3 Q967.9,52.1 964.9,55.3Z" fill="#f8f8f8"/><path d="M973.0,55.3 Q976.0,58.5 979.0,55.3 Q976.0,52.1 973.0,55.3Z" fill="#f8f8f8"/><path d="M981.1,55.3 Q984.1,58.5 987.1,55.3 Q984.1,52.1 981.1,55.3Z" fill="#f8f8f8"/><path d="M989.2,55.3 Q992.2,58.5 995.2,55.3 Q992.2,52.1 989.2,55.3Z" fill="#f8f8f8"/><path d="M997.3,55.3 Q1000.3,58.5 1003.3,55.3 Q1000.3,52.1 997.3,55.3Z" fill="#f8f8f8"/><path d="M1005.4,55.3 Q1008.4,58.5 1011.4,55.3 Q1008.4,52.1 1005.4,55.3Z" fill="#f8f8f8"/><path d="M1013.5,55.3 Q1016.5,58.5 1019.5,55.3 Q1016.5,52.1 1013.5,55.3Z" fill="#f8f8f8"/><path d="M1021.6,55.3 Q1024.6,58.5 1027.6,55.3 Q1024.6,52.1 1021.6,55.3Z" fill="#f8f8f8"/><path d="M1029.8,55.3 Q1032.8,58.5 1035.8,55.3 Q1032.8,52.1 1029.8,55.3Z" fill="#f8f8f8"/><path d="M1037.8,55.3 Q1040.8,58.5 1043.8,55.3 Q1040.8,52.1 1037.8,55.3Z" fill="#f8f8f8"/><path d="M1046.0,55.3 Q1049.0,58.5 1052.0,55.3 Q1049.0,52.1 1046.0,55.3Z" fill="#f8f8f8"/><path d="M1054.0,55.3 Q1057.0,58.5 1060.0,55.3 Q1057.0,52.1 1054.0,55.3Z" fill="#f8f8f8"/><path d="M1062.1,55.3 Q1065.1,58.5 1068.1,55.3 Q1065.1,52.1 1062.1,55.3Z" fill="#f8f8f8"/><path d="M1070.2,55.3 Q1073.2,58.5 1076.2,55.3 Q1073.2,52.1 1070.2,55.3Z" fill="#f8f8f8"/><path d="M1078.3,55.3 Q1081.3,58.5 1084.3,55.3 Q1081.3,52.1 1078.3,55.3Z" fill="#f8f8f8"/><path d="M1086.5,55.3 Q1089.5,58.5 1092.5,55.3 Q1089.5,52.1 1086.5,55.3Z" fill="#f8f8f8"/><path d="M1094.5,55.3 Q1097.5,58.5 1100.5,55.3 Q1097.5,52.1 1094.5,55.3Z" fill="#f8f8f8"/><path d="M1102.6,55.3 Q1105.6,58.5 1108.6,55.3 Q1105.6,52.1 1102.6,55.3Z" fill="#f8f8f8"/><path d="M1110.8,55.3 Q1113.8,58.5 1116.8,55.3 Q1113.8,52.1 1110.8,55.3Z" fill="#f8f8f8"/><path d="M1118.8,55.3 Q1121.8,58.5 1124.8,55.3 Q1121.8,52.1 1118.8,55.3Z" fill="#f8f8f8"/><path d="M1127.0,55.3 Q1130.0,58.5 1133.0,55.3 Q1130.0,52.1 1127.0,55.3Z" fill="#f8f8f8"/><path d="M1135.0,55.3 Q1138.0,58.5 1141.0,55.3 Q1138.0,52.1 1135.0,55.3Z" fill="#f8f8f8"/><path d="M1143.1,55.3 Q1146.1,58.5 1149.1,55.3 Q1146.1,52.1 1143.1,55.3Z" fill="#f8f8f8"/>
<path d="M1230.0,27.0 Q1233.0,30.2 1236.0,27.0 Q1233.0,23.8 1230.0,27.0Z" fill="#f8f8f8"/><path d="M1238.2,27.0 Q1241.2,30.2 1244.2,27.0 Q1241.2,23.8 1238.2,27.0Z" fill="#f8f8f8"/><path d="M1246.2,27.0 Q1249.2,30.2 1252.2,27.0 Q1249.2,23.8 1246.2,27.0Z" fill="#f8f8f8"/><path d="M1254.3,27.0 Q1257.3,30.2 1260.3,27.0 Q1257.3,23.8 1254.3,27.0Z" fill="#f8f8f8"/><path d="M1262.5,27.0 Q1265.5,30.2 1268.5,27.0 Q1265.5,23.8 1262.5,27.0Z" fill="#f8f8f8"/><path d="M1270.5,27.0 Q1273.5,30.2 1276.5,27.0 Q1273.5,23.8 1270.5,27.0Z" fill="#f8f8f8"/><path d="M1278.7,27.0 Q1281.7,30.2 1284.7,27.0 Q1281.7,23.8 1278.7,27.0Z" fill="#f8f8f8"/><path d="M1286.8,27.0 Q1289.8,30.2 1292.8,27.0 Q1289.8,23.8 1286.8,27.0Z" fill="#f8f8f8"/><path d="M1294.8,27.0 Q1297.8,30.2 1300.8,27.0 Q1297.8,23.8 1294.8,27.0Z" fill="#f8f8f8"/><path d="M1303.0,27.0 Q1306.0,30.2 1309.0,27.0 Q1306.0,23.8 1303.0,27.0Z" fill="#f8f8f8"/><path d="M1311.0,27.0 Q1314.0,30.2 1317.0,27.0 Q1314.0,23.8 1311.0,27.0Z" fill="#f8f8f8"/><path d="M1319.2,27.0 Q1322.2,30.2 1325.2,27.0 Q1322.2,23.8 1319.2,27.0Z" fill="#f8f8f8"/><path d="M1327.2,27.0 Q1330.2,30.2 1333.2,27.0 Q1330.2,23.8 1327.2,27.0Z" fill="#f8f8f8"/>
<path d="M1230.0,38.6 Q1233.0,41.8 1236.0,38.6 Q1233.0,35.4 1230.0,38.6Z" fill="#f8f8f8"/><path d="M1238.2,38.6 Q1241.2,41.8 1244.2,38.6 Q1241.2,35.4 1238.2,38.6Z" fill="#f8f8f8"/><path d="M1246.2,38.6 Q1249.2,41.8 1252.2,38.6 Q1249.2,35.4 1246.2,38.6Z" fill="#f8f8f8"/><path d="M1254.3,38.6 Q1257.3,41.8 1260.3,38.6 Q1257.3,35.4 1254.3,38.6Z" fill="#f8f8f8"/><path d="M1262.5,38.6 Q1265.5,41.8 1268.5,38.6 Q1265.5,35.4 1262.5,38.6Z" fill="#f8f8f8"/><path d="M1270.5,38.6 Q1273.5,41.8 1276.5,38.6 Q1273.5,35.4 1270.5,38.6Z" fill="#f8f8f8"/><path d="M1278.7,38.6 Q1281.7,41.8 1284.7,38.6 Q1281.7,35.4 1278.7,38.6Z" fill="#f8f8f8"/><path d="M1286.8,38.6 Q1289.8,41.8 1292.8,38.6 Q1289.8,35.4 1286.8,38.6Z" fill="#f8f8f8"/><path d="M1294.8,38.6 Q1297.8,41.8 1300.8,38.6 Q1297.8,35.4 1294.8,38.6Z" fill="#f8f8f8"/><path d="M1303.0,38.6 Q1306.0,41.8 1309.0,38.6 Q1306.0,35.4 1303.0,38.6Z" fill="#f8f8f8"/><path d="M1311.0,38.6 Q1314.0,41.8 1317.0,38.6 Q1314.0,35.4 1311.0,38.6Z" fill="#f8f8f8"/><path d="M1319.2,38.6 Q1322.2,41.8 1325.2,38.6 Q1322.2,35.4 1319.2,38.6Z" fill="#f8f8f8"/><path d="M1327.2,38.6 Q1330.2,41.8 1333.2,38.6 Q1330.2,35.4 1327.2,38.6Z" fill="#f8f8f8"/>
<path d="M1230.0,52.0 Q1233.0,55.2 1236.0,52.0 Q1233.0,48.8 1230.0,52.0Z" fill="#f8f8f8"/><path d="M1238.2,52.0 Q1241.2,55.2 1244.2,52.0 Q1241.2,48.8 1238.2,52.0Z" fill="#f8f8f8"/><path d="M1246.2,52.0 Q1249.2,55.2 1252.2,52.0 Q1249.2,48.8 1246.2,52.0Z" fill="#f8f8f8"/><path d="M1254.3,52.0 Q1257.3,55.2 1260.3,52.0 Q1257.3,48.8 1254.3,52.0Z" fill="#f8f8f8"/><path d="M1262.5,52.0 Q1265.5,55.2 1268.5,52.0 Q1265.5,48.8 1262.5,52.0Z" fill="#f8f8f8"/><path d="M1270.5,52.0 Q1273.5,55.2 1276.5,52.0 Q1273.5,48.8 1270.5,52.0Z" fill="#f8f8f8"/><path d="M1278.7,52.0 Q1281.7,55.2 1284.7,52.0 Q1281.7,48.8 1278.7,52.0Z" fill="#f8f8f8"/><path d="M1286.8,52.0 Q1289.8,55.2 1292.8,52.0 Q1289.8,48.8 1286.8,52.0Z" fill="#f8f8f8"/><path d="M1294.8,52.0 Q1297.8,55.2 1300.8,52.0 Q1297.8,48.8 1294.8,52.0Z" fill="#f8f8f8"/><path d="M1303.0,52.0 Q1306.0,55.2 1309.0,52.0 Q1306.0,48.8 1303.0,52.0Z" fill="#f8f8f8"/><path d="M1311.0,52.0 Q1314.0,55.2 1317.0,52.0 Q1314.0,48.8 1311.0,52.0Z" fill="#f8f8f8"/><path d="M1319.2,52.0 Q1322.2,55.2 1325.2,52.0 Q1322.2,48.8 1319.2,52.0Z" fill="#f8f8f8"/><path d="M1327.2,52.0 Q1330.2,55.2 1333.2,52.0 Q1330.2,48.8 1327.2,52.0Z" fill="#f8f8f8"/>
<rect x="361" y="9" width="21" height="61" rx="2" fill="#2a2a2a"/>
<rect x="365" y="14" width="13" height="30" fill="#383838"/>
<rect x="365" y="44" width="13" height="18" fill="#202020"/>
<rect x="1153" y="10" width="76" height="60" rx="3" fill="#151515"/>
<rect x="1160" y="14" width="20" height="52" fill="#262626"/>
<rect x="1182" y="17" width="29" height="48" fill="#2c2c2c"/>
<rect x="1184" y="19" width="25" height="44" fill="#222"/>
<rect x="120" y="145" width="63" height="7" rx="3" fill="#111"/>
<rect x="124" y="2" width="55" height="154" rx="9" fill="url(#webV)"/>
<path d="M139.0,5.2 Q136.0,8.2 139.0,11.2 Q142.0,8.2 139.0,5.2Z" fill="#f8f8f8"/><path d="M139.0,13.4 Q136.0,16.4 139.0,19.4 Q142.0,16.4 139.0,13.4Z" fill="#f8f8f8"/><path d="M139.0,21.8 Q136.0,24.8 139.0,27.8 Q142.0,24.8 139.0,21.8Z" fill="#f8f8f8"/><path d="M139.0,30.1 Q136.0,33.1 139.0,36.1 Q142.0,33.1 139.0,30.1Z" fill="#f8f8f8"/><path d="M139.0,38.4 Q136.0,41.4 139.0,44.4 Q142.0,41.4 139.0,38.4Z" fill="#f8f8f8"/><path d="M139.0,46.7 Q136.0,49.7 139.0,52.7 Q142.0,49.7 139.0,46.7Z" fill="#f8f8f8"/><path d="M139.0,55.0 Q136.0,58.0 139.0,61.0 Q142.0,58.0 139.0,55.0Z" fill="#f8f8f8"/><path d="M139.0,63.2 Q136.0,66.2 139.0,69.2 Q142.0,66.2 139.0,63.2Z" fill="#f8f8f8"/><path d="M139.0,71.6 Q136.0,74.6 139.0,77.6 Q142.0,74.6 139.0,71.6Z" fill="#f8f8f8"/><path d="M139.0,79.9 Q136.0,82.9 139.0,85.9 Q142.0,82.9 139.0,79.9Z" fill="#f8f8f8"/><path d="M139.0,88.2 Q136.0,91.2 139.0,94.2 Q142.0,91.2 139.0,88.2Z" fill="#f8f8f8"/><path d="M139.0,96.5 Q136.0,99.5 139.0,102.5 Q142.0,99.5 139.0,96.5Z" fill="#f8f8f8"/><path d="M139.0,104.8 Q136.0,107.8 139.0,110.8 Q142.0,107.8 139.0,104.8Z" fill="#f8f8f8"/><path d="M139.0,113.1 Q136.0,116.1 139.0,119.1 Q142.0,116.1 139.0,113.1Z" fill="#f8f8f8"/><path d="M139.0,121.4 Q136.0,124.4 139.0,127.4 Q142.0,124.4 139.0,121.4Z" fill="#f8f8f8"/><path d="M139.0,129.7 Q136.0,132.7 139.0,135.7 Q142.0,132.7 139.0,129.7Z" fill="#f8f8f8"/><path d="M139.0,138.0 Q136.0,141.0 139.0,144.0 Q142.0,141.0 139.0,138.0Z" fill="#f8f8f8"/><path d="M139.0,146.2 Q136.0,149.2 139.0,152.2 Q142.0,149.2 139.0,146.2Z" fill="#f8f8f8"/>
<path d="M152.0,5.2 Q149.0,8.2 152.0,11.2 Q155.0,8.2 152.0,5.2Z" fill="#f8f8f8"/><path d="M152.0,13.4 Q149.0,16.4 152.0,19.4 Q155.0,16.4 152.0,13.4Z" fill="#f8f8f8"/><path d="M152.0,21.8 Q149.0,24.8 152.0,27.8 Q155.0,24.8 152.0,21.8Z" fill="#f8f8f8"/><path d="M152.0,30.1 Q149.0,33.1 152.0,36.1 Q155.0,33.1 152.0,30.1Z" fill="#f8f8f8"/><path d="M152.0,38.4 Q149.0,41.4 152.0,44.4 Q155.0,41.4 152.0,38.4Z" fill="#f8f8f8"/><path d="M152.0,46.7 Q149.0,49.7 152.0,52.7 Q155.0,49.7 152.0,46.7Z" fill="#f8f8f8"/><path d="M152.0,55.0 Q149.0,58.0 152.0,61.0 Q155.0,58.0 152.0,55.0Z" fill="#f8f8f8"/><path d="M152.0,63.2 Q149.0,66.2 152.0,69.2 Q155.0,66.2 152.0,63.2Z" fill="#f8f8f8"/><path d="M152.0,71.6 Q149.0,74.6 152.0,77.6 Q155.0,74.6 152.0,71.6Z" fill="#f8f8f8"/><path d="M152.0,79.9 Q149.0,82.9 152.0,85.9 Q155.0,82.9 152.0,79.9Z" fill="#f8f8f8"/><path d="M152.0,88.2 Q149.0,91.2 152.0,94.2 Q155.0,91.2 152.0,88.2Z" fill="#f8f8f8"/><path d="M152.0,96.5 Q149.0,99.5 152.0,102.5 Q155.0,99.5 152.0,96.5Z" fill="#f8f8f8"/><path d="M152.0,104.8 Q149.0,107.8 152.0,110.8 Q155.0,107.8 152.0,104.8Z" fill="#f8f8f8"/><path d="M152.0,113.1 Q149.0,116.1 152.0,119.1 Q155.0,116.1 152.0,113.1Z" fill="#f8f8f8"/><path d="M152.0,121.4 Q149.0,124.4 152.0,127.4 Q155.0,124.4 152.0,121.4Z" fill="#f8f8f8"/><path d="M152.0,129.7 Q149.0,132.7 152.0,135.7 Q155.0,132.7 152.0,129.7Z" fill="#f8f8f8"/><path d="M152.0,138.0 Q149.0,141.0 152.0,144.0 Q155.0,141.0 152.0,138.0Z" fill="#f8f8f8"/><path d="M152.0,146.2 Q149.0,149.2 152.0,152.2 Q155.0,149.2 152.0,146.2Z" fill="#f8f8f8"/>
<path d="M165.0,5.2 Q162.0,8.2 165.0,11.2 Q168.0,8.2 165.0,5.2Z" fill="#f8f8f8"/><path d="M165.0,13.4 Q162.0,16.4 165.0,19.4 Q168.0,16.4 165.0,13.4Z" fill="#f8f8f8"/><path d="M165.0,21.8 Q162.0,24.8 165.0,27.8 Q168.0,24.8 165.0,21.8Z" fill="#f8f8f8"/><path d="M165.0,30.1 Q162.0,33.1 165.0,36.1 Q168.0,33.1 165.0,30.1Z" fill="#f8f8f8"/><path d="M165.0,38.4 Q162.0,41.4 165.0,44.4 Q168.0,41.4 165.0,38.4Z" fill="#f8f8f8"/><path d="M165.0,46.7 Q162.0,49.7 165.0,52.7 Q168.0,49.7 165.0,46.7Z" fill="#f8f8f8"/><path d="M165.0,55.0 Q162.0,58.0 165.0,61.0 Q168.0,58.0 165.0,55.0Z" fill="#f8f8f8"/><path d="M165.0,63.2 Q162.0,66.2 165.0,69.2 Q168.0,66.2 165.0,63.2Z" fill="#f8f8f8"/><path d="M165.0,71.6 Q162.0,74.6 165.0,77.6 Q168.0,74.6 165.0,71.6Z" fill="#f8f8f8"/><path d="M165.0,79.9 Q162.0,82.9 165.0,85.9 Q168.0,82.9 165.0,79.9Z" fill="#f8f8f8"/><path d="M165.0,88.2 Q162.0,91.2 165.0,94.2 Q168.0,91.2 165.0,88.2Z" fill="#f8f8f8"/><path d="M165.0,96.5 Q162.0,99.5 165.0,102.5 Q168.0,99.5 165.0,96.5Z" fill="#f8f8f8"/><path d="M165.0,104.8 Q162.0,107.8 165.0,110.8 Q168.0,107.8 165.0,104.8Z" fill="#f8f8f8"/><path d="M165.0,113.1 Q162.0,116.1 165.0,119.1 Q168.0,116.1 165.0,113.1Z" fill="#f8f8f8"/><path d="M165.0,121.4 Q162.0,124.4 165.0,127.4 Q168.0,124.4 165.0,121.4Z" fill="#f8f8f8"/><path d="M165.0,129.7 Q162.0,132.7 165.0,135.7 Q168.0,132.7 165.0,129.7Z" fill="#f8f8f8"/><path d="M165.0,138.0 Q162.0,141.0 165.0,144.0 Q168.0,141.0 165.0,138.0Z" fill="#f8f8f8"/><path d="M165.0,146.2 Q162.0,149.2 165.0,152.2 Q168.0,149.2 165.0,146.2Z" fill="#f8f8f8"/>
<path d="M125,192 C120,174 133,159 148,158 C160,157 168,163 168,176" fill="none" stroke="#121212" stroke-width="7.5"/>
<path d="M167,170 C170,178 170,186 168,194 L161,238" fill="none" stroke="#121212" stroke-width="12"/>
<path d="M166,182 L160,232" fill="none" stroke="#2c2c2c" stroke-width="6"/>
<polygon points="131,229 161,229 163,243 158,247 141,247" fill="#161616"/>
<rect x="147" y="234" width="13" height="4" fill="#3a3a3a"/>
<circle cx="142" cy="239" r="2.2" fill="#888"/>
<path d="M124,188 L130,200" stroke="#151515" stroke-width="5"/>
<g transform="rotate(-20 131 214)"><rect x="123" y="201" width="16" height="25" rx="2" fill="#b0b0b0" stroke="#222" stroke-width="1"/><rect x="130" y="202" width="2" height="23" fill="#555"/></g>
<path d="M133,227 L138,240" stroke="#151515" stroke-width="5"/>
<path d="M123,152 C122,170 136,182 152,182 C168,182 182,170 181,152" fill="none" stroke="#111" stroke-width="4.5"/>
<path d="M153,246 C165,246 172,254 178,264 L188,284 C192,294 188,300 180,300 L126,300 C118,300 114,294 118,284 L128,264 C134,254 141,246 153,246 Z" fill="#141414"/>
<path d="M131,274 L175,274 C172,264 164,258 153,258 C142,258 134,264 131,274 Z" fill="#fff"/>
<rect x="145" y="248" width="12" height="16" rx="2" fill="#1e1e1e"/>
<path d="M128,279 L178,279 L176,283 L130,283 Z" fill="#fff"/>
<rect x="131" y="283" width="49" height="966" fill="url(#webV)"/>
<path d="M144.0,286.1 Q141.0,289.1 144.0,292.1 Q147.0,289.1 144.0,286.1Z" fill="#f8f8f8"/><path d="M144.0,294.4 Q141.0,297.4 144.0,300.4 Q147.0,297.4 144.0,294.4Z" fill="#f8f8f8"/><path d="M144.0,302.6 Q141.0,305.6 144.0,308.6 Q147.0,305.6 144.0,302.6Z" fill="#f8f8f8"/><path d="M144.0,310.8 Q141.0,313.8 144.0,316.8 Q147.0,313.8 144.0,310.8Z" fill="#f8f8f8"/><path d="M144.0,319.1 Q141.0,322.1 144.0,325.1 Q147.0,322.1 144.0,319.1Z" fill="#f8f8f8"/><path d="M144.0,327.3 Q141.0,330.3 144.0,333.3 Q147.0,330.3 144.0,327.3Z" fill="#f8f8f8"/><path d="M144.0,335.6 Q141.0,338.6 144.0,341.6 Q147.0,338.6 144.0,335.6Z" fill="#f8f8f8"/><path d="M144.0,343.8 Q141.0,346.8 144.0,349.8 Q147.0,346.8 144.0,343.8Z" fill="#f8f8f8"/><path d="M144.0,352.0 Q141.0,355.0 144.0,358.0 Q147.0,355.0 144.0,352.0Z" fill="#f8f8f8"/><path d="M144.0,360.3 Q141.0,363.3 144.0,366.3 Q147.0,363.3 144.0,360.3Z" fill="#f8f8f8"/><path d="M144.0,368.5 Q141.0,371.5 144.0,374.5 Q147.0,371.5 144.0,368.5Z" fill="#f8f8f8"/><path d="M144.0,376.8 Q141.0,379.8 144.0,382.8 Q147.0,379.8 144.0,376.8Z" fill="#f8f8f8"/>
<path d="M144.0,476.1 Q141.0,479.1 144.0,482.1 Q147.0,479.1 144.0,476.1Z" fill="#f8f8f8"/><path d="M144.0,484.4 Q141.0,487.4 144.0,490.4 Q147.0,487.4 144.0,484.4Z" fill="#f8f8f8"/><path d="M144.0,492.6 Q141.0,495.6 144.0,498.6 Q147.0,495.6 144.0,492.6Z" fill="#f8f8f8"/><path d="M144.0,500.8 Q141.0,503.8 144.0,506.8 Q147.0,503.8 144.0,500.8Z" fill="#f8f8f8"/><path d="M144.0,509.1 Q141.0,512.1 144.0,515.1 Q147.0,512.1 144.0,509.1Z" fill="#f8f8f8"/><path d="M144.0,517.3 Q141.0,520.3 144.0,523.3 Q147.0,520.3 144.0,517.3Z" fill="#f8f8f8"/><path d="M144.0,525.6 Q141.0,528.6 144.0,531.6 Q147.0,528.6 144.0,525.6Z" fill="#f8f8f8"/><path d="M144.0,533.8 Q141.0,536.8 144.0,539.8 Q147.0,536.8 144.0,533.8Z" fill="#f8f8f8"/><path d="M144.0,542.0 Q141.0,545.0 144.0,548.0 Q147.0,545.0 144.0,542.0Z" fill="#f8f8f8"/><path d="M144.0,550.3 Q141.0,553.3 144.0,556.3 Q147.0,553.3 144.0,550.3Z" fill="#f8f8f8"/><path d="M144.0,558.5 Q141.0,561.5 144.0,564.5 Q147.0,561.5 144.0,558.5Z" fill="#f8f8f8"/><path d="M144.0,566.8 Q141.0,569.8 144.0,572.8 Q147.0,569.8 144.0,566.8Z" fill="#f8f8f8"/><path d="M144.0,575.0 Q141.0,578.0 144.0,581.0 Q147.0,578.0 144.0,575.0Z" fill="#f8f8f8"/><path d="M144.0,583.2 Q141.0,586.2 144.0,589.2 Q147.0,586.2 144.0,583.2Z" fill="#f8f8f8"/><path d="M144.0,591.5 Q141.0,594.5 144.0,597.5 Q147.0,594.5 144.0,591.5Z" fill="#f8f8f8"/><path d="M144.0,599.7 Q141.0,602.7 144.0,605.7 Q147.0,602.7 144.0,599.7Z" fill="#f8f8f8"/><path d="M144.0,608.0 Q141.0,611.0 144.0,614.0 Q147.0,611.0 144.0,608.0Z" fill="#f8f8f8"/><path d="M144.0,616.2 Q141.0,619.2 144.0,622.2 Q147.0,619.2 144.0,616.2Z" fill="#f8f8f8"/><path d="M144.0,624.4 Q141.0,627.4 144.0,630.4 Q147.0,627.4 144.0,624.4Z" fill="#f8f8f8"/><path d="M144.0,632.7 Q141.0,635.7 144.0,638.7 Q147.0,635.7 144.0,632.7Z" fill="#f8f8f8"/><path d="M144.0,640.9 Q141.0,643.9 144.0,646.9 Q147.0,643.9 144.0,640.9Z" fill="#f8f8f8"/><path d="M144.0,649.2 Q141.0,652.2 144.0,655.2 Q147.0,652.2 144.0,649.2Z" fill="#f8f8f8"/><path d="M144.0,657.4 Q141.0,660.4 144.0,663.4 Q147.0,660.4 144.0,657.4Z" fill="#f8f8f8"/><path d="M144.0,665.6 Q141.0,668.6 144.0,671.6 Q147.0,668.6 144.0,665.6Z" fill="#f8f8f8"/><path d="M144.0,673.9 Q141.0,676.9 144.0,679.9 Q147.0,676.9 144.0,673.9Z" fill="#f8f8f8"/><path d="M144.0,682.1 Q141.0,685.1 144.0,688.1 Q147.0,685.1 144.0,682.1Z" fill="#f8f8f8"/><path d="M144.0,690.4 Q141.0,693.4 144.0,696.4 Q147.0,693.4 144.0,690.4Z" fill="#f8f8f8"/><path d="M144.0,698.6 Q141.0,701.6 144.0,704.6 Q147.0,701.6 144.0,698.6Z" fill="#f8f8f8"/><path d="M144.0,706.8 Q141.0,709.8 144.0,712.8 Q147.0,709.8 144.0,706.8Z" fill="#f8f8f8"/><path d="M144.0,715.1 Q141.0,718.1 144.0,721.1 Q147.0,718.1 144.0,715.1Z" fill="#f8f8f8"/><path d="M144.0,723.3 Q141.0,726.3 144.0,729.3 Q147.0,726.3 144.0,723.3Z" fill="#f8f8f8"/><path d="M144.0,731.6 Q141.0,734.6 144.0,737.6 Q147.0,734.6 144.0,731.6Z" fill="#f8f8f8"/><path d="M144.0,739.8 Q141.0,742.8 144.0,745.8 Q147.0,742.8 144.0,739.8Z" fill="#f8f8f8"/><path d="M144.0,748.0 Q141.0,751.0 144.0,754.0 Q147.0,751.0 144.0,748.0Z" fill="#f8f8f8"/><path d="M144.0,756.3 Q141.0,759.3 144.0,762.3 Q147.0,759.3 144.0,756.3Z" fill="#f8f8f8"/><path d="M144.0,764.5 Q141.0,767.5 144.0,770.5 Q147.0,767.5 144.0,764.5Z" fill="#f8f8f8"/><path d="M144.0,772.8 Q141.0,775.8 144.0,778.8 Q147.0,775.8 144.0,772.8Z" fill="#f8f8f8"/><path d="M144.0,781.0 Q141.0,784.0 144.0,787.0 Q147.0,784.0 144.0,781.0Z" fill="#f8f8f8"/><path d="M144.0,789.2 Q141.0,792.2 144.0,795.2 Q147.0,792.2 144.0,789.2Z" fill="#f8f8f8"/><path d="M144.0,797.5 Q141.0,800.5 144.0,803.5 Q147.0,800.5 144.0,797.5Z" fill="#f8f8f8"/><path d="M144.0,805.7 Q141.0,808.7 144.0,811.7 Q147.0,808.7 144.0,805.7Z" fill="#f8f8f8"/><path d="M144.0,814.0 Q141.0,817.0 144.0,820.0 Q147.0,817.0 144.0,814.0Z" fill="#f8f8f8"/><path d="M144.0,822.2 Q141.0,825.2 144.0,828.2 Q147.0,825.2 144.0,822.2Z" fill="#f8f8f8"/><path d="M144.0,830.4 Q141.0,833.4 144.0,836.4 Q147.0,833.4 144.0,830.4Z" fill="#f8f8f8"/><path d="M144.0,838.7 Q141.0,841.7 144.0,844.7 Q147.0,841.7 144.0,838.7Z" fill="#f8f8f8"/><path d="M144.0,846.9 Q141.0,849.9 144.0,852.9 Q147.0,849.9 144.0,846.9Z" fill="#f8f8f8"/><path d="M144.0,855.2 Q141.0,858.2 144.0,861.2 Q147.0,858.2 144.0,855.2Z" fill="#f8f8f8"/><path d="M144.0,863.4 Q141.0,866.4 144.0,869.4 Q147.0,866.4 144.0,863.4Z" fill="#f8f8f8"/><path d="M144.0,871.6 Q141.0,874.6 144.0,877.6 Q147.0,874.6 144.0,871.6Z" fill="#f8f8f8"/><path d="M144.0,879.9 Q141.0,882.9 144.0,885.9 Q147.0,882.9 144.0,879.9Z" fill="#f8f8f8"/><path d="M144.0,888.1 Q141.0,891.1 144.0,894.1 Q147.0,891.1 144.0,888.1Z" fill="#f8f8f8"/><path d="M144.0,896.4 Q141.0,899.4 144.0,902.4 Q147.0,899.4 144.0,896.4Z" fill="#f8f8f8"/><path d="M144.0,904.6 Q141.0,907.6 144.0,910.6 Q147.0,907.6 144.0,904.6Z" fill="#f8f8f8"/><path d="M144.0,912.8 Q141.0,915.8 144.0,918.8 Q147.0,915.8 144.0,912.8Z" fill="#f8f8f8"/><path d="M144.0,921.1 Q141.0,924.1 144.0,927.1 Q147.0,924.1 144.0,921.1Z" fill="#f8f8f8"/><path d="M144.0,929.3 Q141.0,932.3 144.0,935.3 Q147.0,932.3 144.0,929.3Z" fill="#f8f8f8"/><path d="M144.0,937.6 Q141.0,940.6 144.0,943.6 Q147.0,940.6 144.0,937.6Z" fill="#f8f8f8"/><path d="M144.0,945.8 Q141.0,948.8 144.0,951.8 Q147.0,948.8 144.0,945.8Z" fill="#f8f8f8"/><path d="M144.0,954.0 Q141.0,957.0 144.0,960.0 Q147.0,957.0 144.0,954.0Z" fill="#f8f8f8"/><path d="M144.0,962.3 Q141.0,965.3 144.0,968.3 Q147.0,965.3 144.0,962.3Z" fill="#f8f8f8"/><path d="M144.0,970.5 Q141.0,973.5 144.0,976.5 Q147.0,973.5 144.0,970.5Z" fill="#f8f8f8"/><path d="M144.0,978.8 Q141.0,981.8 144.0,984.8 Q147.0,981.8 144.0,978.8Z" fill="#f8f8f8"/><path d="M144.0,987.0 Q141.0,990.0 144.0,993.0 Q147.0,990.0 144.0,987.0Z" fill="#f8f8f8"/><path d="M144.0,995.2 Q141.0,998.2 144.0,1001.2 Q147.0,998.2 144.0,995.2Z" fill="#f8f8f8"/><path d="M144.0,1003.5 Q141.0,1006.5 144.0,1009.5 Q147.0,1006.5 144.0,1003.5Z" fill="#f8f8f8"/><path d="M144.0,1011.7 Q141.0,1014.7 144.0,1017.7 Q147.0,1014.7 144.0,1011.7Z" fill="#f8f8f8"/><path d="M144.0,1020.0 Q141.0,1023.0 144.0,1026.0 Q147.0,1023.0 144.0,1020.0Z" fill="#f8f8f8"/><path d="M144.0,1028.2 Q141.0,1031.2 144.0,1034.2 Q147.0,1031.2 144.0,1028.2Z" fill="#f8f8f8"/><path d="M144.0,1036.4 Q141.0,1039.4 144.0,1042.4 Q147.0,1039.4 144.0,1036.4Z" fill="#f8f8f8"/><path d="M144.0,1044.7 Q141.0,1047.7 144.0,1050.7 Q147.0,1047.7 144.0,1044.7Z" fill="#f8f8f8"/><path d="M144.0,1052.9 Q141.0,1055.9 144.0,1058.9 Q147.0,1055.9 144.0,1052.9Z" fill="#f8f8f8"/><path d="M144.0,1061.2 Q141.0,1064.2 144.0,1067.2 Q147.0,1064.2 144.0,1061.2Z" fill="#f8f8f8"/><path d="M144.0,1069.4 Q141.0,1072.4 144.0,1075.4 Q147.0,1072.4 144.0,1069.4Z" fill="#f8f8f8"/><path d="M144.0,1077.6 Q141.0,1080.6 144.0,1083.6 Q147.0,1080.6 144.0,1077.6Z" fill="#f8f8f8"/><path d="M144.0,1085.9 Q141.0,1088.9 144.0,1091.9 Q147.0,1088.9 144.0,1085.9Z" fill="#f8f8f8"/><path d="M144.0,1094.1 Q141.0,1097.1 144.0,1100.1 Q147.0,1097.1 144.0,1094.1Z" fill="#f8f8f8"/><path d="M144.0,1102.4 Q141.0,1105.4 144.0,1108.4 Q147.0,1105.4 144.0,1102.4Z" fill="#f8f8f8"/><path d="M144.0,1110.6 Q141.0,1113.6 144.0,1116.6 Q147.0,1113.6 144.0,1110.6Z" fill="#f8f8f8"/><path d="M144.0,1118.8 Q141.0,1121.8 144.0,1124.8 Q147.0,1121.8 144.0,1118.8Z" fill="#f8f8f8"/><path d="M144.0,1127.1 Q141.0,1130.1 144.0,1133.1 Q147.0,1130.1 144.0,1127.1Z" fill="#f8f8f8"/><path d="M144.0,1135.3 Q141.0,1138.3 144.0,1141.3 Q147.0,1138.3 144.0,1135.3Z" fill="#f8f8f8"/><path d="M144.0,1143.6 Q141.0,1146.6 144.0,1149.6 Q147.0,1146.6 144.0,1143.6Z" fill="#f8f8f8"/><path d="M144.0,1151.8 Q141.0,1154.8 144.0,1157.8 Q147.0,1154.8 144.0,1151.8Z" fill="#f8f8f8"/><path d="M144.0,1160.0 Q141.0,1163.0 144.0,1166.0 Q147.0,1163.0 144.0,1160.0Z" fill="#f8f8f8"/><path d="M144.0,1168.3 Q141.0,1171.3 144.0,1174.3 Q147.0,1171.3 144.0,1168.3Z" fill="#f8f8f8"/><path d="M144.0,1176.5 Q141.0,1179.5 144.0,1182.5 Q147.0,1179.5 144.0,1176.5Z" fill="#f8f8f8"/><path d="M144.0,1184.8 Q141.0,1187.8 144.0,1190.8 Q147.0,1187.8 144.0,1184.8Z" fill="#f8f8f8"/><path d="M144.0,1193.0 Q141.0,1196.0 144.0,1199.0 Q147.0,1196.0 144.0,1193.0Z" fill="#f8f8f8"/><path d="M144.0,1201.2 Q141.0,1204.2 144.0,1207.2 Q147.0,1204.2 144.0,1201.2Z" fill="#f8f8f8"/><path d="M144.0,1209.5 Q141.0,1212.5 144.0,1215.5 Q147.0,1212.5 144.0,1209.5Z" fill="#f8f8f8"/><path d="M144.0,1217.7 Q141.0,1220.7 144.0,1223.7 Q147.0,1220.7 144.0,1217.7Z" fill="#f8f8f8"/><path d="M144.0,1226.0 Q141.0,1229.0 144.0,1232.0 Q147.0,1229.0 144.0,1226.0Z" fill="#f8f8f8"/><path d="M144.0,1234.2 Q141.0,1237.2 144.0,1240.2 Q147.0,1237.2 144.0,1234.2Z" fill="#f8f8f8"/><path d="M144.0,1242.4 Q141.0,1245.4 144.0,1248.4 Q147.0,1245.4 144.0,1242.4Z" fill="#f8f8f8"/>
<path d="M156.0,286.1 Q153.0,289.1 156.0,292.1 Q159.0,289.1 156.0,286.1Z" fill="#f8f8f8"/><path d="M156.0,294.4 Q153.0,297.4 156.0,300.4 Q159.0,297.4 156.0,294.4Z" fill="#f8f8f8"/><path d="M156.0,302.6 Q153.0,305.6 156.0,308.6 Q159.0,305.6 156.0,302.6Z" fill="#f8f8f8"/><path d="M156.0,310.8 Q153.0,313.8 156.0,316.8 Q159.0,313.8 156.0,310.8Z" fill="#f8f8f8"/><path d="M156.0,319.1 Q153.0,322.1 156.0,325.1 Q159.0,322.1 156.0,319.1Z" fill="#f8f8f8"/><path d="M156.0,327.3 Q153.0,330.3 156.0,333.3 Q159.0,330.3 156.0,327.3Z" fill="#f8f8f8"/><path d="M156.0,335.6 Q153.0,338.6 156.0,341.6 Q159.0,338.6 156.0,335.6Z" fill="#f8f8f8"/><path d="M156.0,343.8 Q153.0,346.8 156.0,349.8 Q159.0,346.8 156.0,343.8Z" fill="#f8f8f8"/><path d="M156.0,352.0 Q153.0,355.0 156.0,358.0 Q159.0,355.0 156.0,352.0Z" fill="#f8f8f8"/><path d="M156.0,360.3 Q153.0,363.3 156.0,366.3 Q159.0,363.3 156.0,360.3Z" fill="#f8f8f8"/><path d="M156.0,368.5 Q153.0,371.5 156.0,374.5 Q159.0,371.5 156.0,368.5Z" fill="#f8f8f8"/><path d="M156.0,376.8 Q153.0,379.8 156.0,382.8 Q159.0,379.8 156.0,376.8Z" fill="#f8f8f8"/>
<path d="M156.0,476.1 Q153.0,479.1 156.0,482.1 Q159.0,479.1 156.0,476.1Z" fill="#f8f8f8"/><path d="M156.0,484.4 Q153.0,487.4 156.0,490.4 Q159.0,487.4 156.0,484.4Z" fill="#f8f8f8"/><path d="M156.0,492.6 Q153.0,495.6 156.0,498.6 Q159.0,495.6 156.0,492.6Z" fill="#f8f8f8"/><path d="M156.0,500.8 Q153.0,503.8 156.0,506.8 Q159.0,503.8 156.0,500.8Z" fill="#f8f8f8"/><path d="M156.0,509.1 Q153.0,512.1 156.0,515.1 Q159.0,512.1 156.0,509.1Z" fill="#f8f8f8"/><path d="M156.0,517.3 Q153.0,520.3 156.0,523.3 Q159.0,520.3 156.0,517.3Z" fill="#f8f8f8"/><path d="M156.0,525.6 Q153.0,528.6 156.0,531.6 Q159.0,528.6 156.0,525.6Z" fill="#f8f8f8"/><path d="M156.0,533.8 Q153.0,536.8 156.0,539.8 Q159.0,536.8 156.0,533.8Z" fill="#f8f8f8"/><path d="M156.0,542.0 Q153.0,545.0 156.0,548.0 Q159.0,545.0 156.0,542.0Z" fill="#f8f8f8"/><path d="M156.0,550.3 Q153.0,553.3 156.0,556.3 Q159.0,553.3 156.0,550.3Z" fill="#f8f8f8"/><path d="M156.0,558.5 Q153.0,561.5 156.0,564.5 Q159.0,561.5 156.0,558.5Z" fill="#f8f8f8"/><path d="M156.0,566.8 Q153.0,569.8 156.0,572.8 Q159.0,569.8 156.0,566.8Z" fill="#f8f8f8"/><path d="M156.0,575.0 Q153.0,578.0 156.0,581.0 Q159.0,578.0 156.0,575.0Z" fill="#f8f8f8"/><path d="M156.0,583.2 Q153.0,586.2 156.0,589.2 Q159.0,586.2 156.0,583.2Z" fill="#f8f8f8"/><path d="M156.0,591.5 Q153.0,594.5 156.0,597.5 Q159.0,594.5 156.0,591.5Z" fill="#f8f8f8"/><path d="M156.0,599.7 Q153.0,602.7 156.0,605.7 Q159.0,602.7 156.0,599.7Z" fill="#f8f8f8"/><path d="M156.0,608.0 Q153.0,611.0 156.0,614.0 Q159.0,611.0 156.0,608.0Z" fill="#f8f8f8"/><path d="M156.0,616.2 Q153.0,619.2 156.0,622.2 Q159.0,619.2 156.0,616.2Z" fill="#f8f8f8"/><path d="M156.0,624.4 Q153.0,627.4 156.0,630.4 Q159.0,627.4 156.0,624.4Z" fill="#f8f8f8"/><path d="M156.0,632.7 Q153.0,635.7 156.0,638.7 Q159.0,635.7 156.0,632.7Z" fill="#f8f8f8"/><path d="M156.0,640.9 Q153.0,643.9 156.0,646.9 Q159.0,643.9 156.0,640.9Z" fill="#f8f8f8"/><path d="M156.0,649.2 Q153.0,652.2 156.0,655.2 Q159.0,652.2 156.0,649.2Z" fill="#f8f8f8"/><path d="M156.0,657.4 Q153.0,660.4 156.0,663.4 Q159.0,660.4 156.0,657.4Z" fill="#f8f8f8"/><path d="M156.0,665.6 Q153.0,668.6 156.0,671.6 Q159.0,668.6 156.0,665.6Z" fill="#f8f8f8"/><path d="M156.0,673.9 Q153.0,676.9 156.0,679.9 Q159.0,676.9 156.0,673.9Z" fill="#f8f8f8"/><path d="M156.0,682.1 Q153.0,685.1 156.0,688.1 Q159.0,685.1 156.0,682.1Z" fill="#f8f8f8"/><path d="M156.0,690.4 Q153.0,693.4 156.0,696.4 Q159.0,693.4 156.0,690.4Z" fill="#f8f8f8"/><path d="M156.0,698.6 Q153.0,701.6 156.0,704.6 Q159.0,701.6 156.0,698.6Z" fill="#f8f8f8"/><path d="M156.0,706.8 Q153.0,709.8 156.0,712.8 Q159.0,709.8 156.0,706.8Z" fill="#f8f8f8"/><path d="M156.0,715.1 Q153.0,718.1 156.0,721.1 Q159.0,718.1 156.0,715.1Z" fill="#f8f8f8"/><path d="M156.0,723.3 Q153.0,726.3 156.0,729.3 Q159.0,726.3 156.0,723.3Z" fill="#f8f8f8"/><path d="M156.0,731.6 Q153.0,734.6 156.0,737.6 Q159.0,734.6 156.0,731.6Z" fill="#f8f8f8"/><path d="M156.0,739.8 Q153.0,742.8 156.0,745.8 Q159.0,742.8 156.0,739.8Z" fill="#f8f8f8"/><path d="M156.0,748.0 Q153.0,751.0 156.0,754.0 Q159.0,751.0 156.0,748.0Z" fill="#f8f8f8"/><path d="M156.0,756.3 Q153.0,759.3 156.0,762.3 Q159.0,759.3 156.0,756.3Z" fill="#f8f8f8"/><path d="M156.0,764.5 Q153.0,767.5 156.0,770.5 Q159.0,767.5 156.0,764.5Z" fill="#f8f8f8"/><path d="M156.0,772.8 Q153.0,775.8 156.0,778.8 Q159.0,775.8 156.0,772.8Z" fill="#f8f8f8"/><path d="M156.0,781.0 Q153.0,784.0 156.0,787.0 Q159.0,784.0 156.0,781.0Z" fill="#f8f8f8"/><path d="M156.0,789.2 Q153.0,792.2 156.0,795.2 Q159.0,792.2 156.0,789.2Z" fill="#f8f8f8"/><path d="M156.0,797.5 Q153.0,800.5 156.0,803.5 Q159.0,800.5 156.0,797.5Z" fill="#f8f8f8"/><path d="M156.0,805.7 Q153.0,808.7 156.0,811.7 Q159.0,808.7 156.0,805.7Z" fill="#f8f8f8"/><path d="M156.0,814.0 Q153.0,817.0 156.0,820.0 Q159.0,817.0 156.0,814.0Z" fill="#f8f8f8"/><path d="M156.0,822.2 Q153.0,825.2 156.0,828.2 Q159.0,825.2 156.0,822.2Z" fill="#f8f8f8"/><path d="M156.0,830.4 Q153.0,833.4 156.0,836.4 Q159.0,833.4 156.0,830.4Z" fill="#f8f8f8"/><path d="M156.0,838.7 Q153.0,841.7 156.0,844.7 Q159.0,841.7 156.0,838.7Z" fill="#f8f8f8"/><path d="M156.0,846.9 Q153.0,849.9 156.0,852.9 Q159.0,849.9 156.0,846.9Z" fill="#f8f8f8"/><path d="M156.0,855.2 Q153.0,858.2 156.0,861.2 Q159.0,858.2 156.0,855.2Z" fill="#f8f8f8"/><path d="M156.0,863.4 Q153.0,866.4 156.0,869.4 Q159.0,866.4 156.0,863.4Z" fill="#f8f8f8"/><path d="M156.0,871.6 Q153.0,874.6 156.0,877.6 Q159.0,874.6 156.0,871.6Z" fill="#f8f8f8"/><path d="M156.0,879.9 Q153.0,882.9 156.0,885.9 Q159.0,882.9 156.0,879.9Z" fill="#f8f8f8"/><path d="M156.0,888.1 Q153.0,891.1 156.0,894.1 Q159.0,891.1 156.0,888.1Z" fill="#f8f8f8"/><path d="M156.0,896.4 Q153.0,899.4 156.0,902.4 Q159.0,899.4 156.0,896.4Z" fill="#f8f8f8"/><path d="M156.0,904.6 Q153.0,907.6 156.0,910.6 Q159.0,907.6 156.0,904.6Z" fill="#f8f8f8"/><path d="M156.0,912.8 Q153.0,915.8 156.0,918.8 Q159.0,915.8 156.0,912.8Z" fill="#f8f8f8"/><path d="M156.0,921.1 Q153.0,924.1 156.0,927.1 Q159.0,924.1 156.0,921.1Z" fill="#f8f8f8"/><path d="M156.0,929.3 Q153.0,932.3 156.0,935.3 Q159.0,932.3 156.0,929.3Z" fill="#f8f8f8"/><path d="M156.0,937.6 Q153.0,940.6 156.0,943.6 Q159.0,940.6 156.0,937.6Z" fill="#f8f8f8"/><path d="M156.0,945.8 Q153.0,948.8 156.0,951.8 Q159.0,948.8 156.0,945.8Z" fill="#f8f8f8"/><path d="M156.0,954.0 Q153.0,957.0 156.0,960.0 Q159.0,957.0 156.0,954.0Z" fill="#f8f8f8"/><path d="M156.0,962.3 Q153.0,965.3 156.0,968.3 Q159.0,965.3 156.0,962.3Z" fill="#f8f8f8"/><path d="M156.0,970.5 Q153.0,973.5 156.0,976.5 Q159.0,973.5 156.0,970.5Z" fill="#f8f8f8"/><path d="M156.0,978.8 Q153.0,981.8 156.0,984.8 Q159.0,981.8 156.0,978.8Z" fill="#f8f8f8"/><path d="M156.0,987.0 Q153.0,990.0 156.0,993.0 Q159.0,990.0 156.0,987.0Z" fill="#f8f8f8"/><path d="M156.0,995.2 Q153.0,998.2 156.0,1001.2 Q159.0,998.2 156.0,995.2Z" fill="#f8f8f8"/><path d="M156.0,1003.5 Q153.0,1006.5 156.0,1009.5 Q159.0,1006.5 156.0,1003.5Z" fill="#f8f8f8"/><path d="M156.0,1011.7 Q153.0,1014.7 156.0,1017.7 Q159.0,1014.7 156.0,1011.7Z" fill="#f8f8f8"/><path d="M156.0,1020.0 Q153.0,1023.0 156.0,1026.0 Q159.0,1023.0 156.0,1020.0Z" fill="#f8f8f8"/><path d="M156.0,1028.2 Q153.0,1031.2 156.0,1034.2 Q159.0,1031.2 156.0,1028.2Z" fill="#f8f8f8"/><path d="M156.0,1036.4 Q153.0,1039.4 156.0,1042.4 Q159.0,1039.4 156.0,1036.4Z" fill="#f8f8f8"/><path d="M156.0,1044.7 Q153.0,1047.7 156.0,1050.7 Q159.0,1047.7 156.0,1044.7Z" fill="#f8f8f8"/><path d="M156.0,1052.9 Q153.0,1055.9 156.0,1058.9 Q159.0,1055.9 156.0,1052.9Z" fill="#f8f8f8"/><path d="M156.0,1061.2 Q153.0,1064.2 156.0,1067.2 Q159.0,1064.2 156.0,1061.2Z" fill="#f8f8f8"/><path d="M156.0,1069.4 Q153.0,1072.4 156.0,1075.4 Q159.0,1072.4 156.0,1069.4Z" fill="#f8f8f8"/><path d="M156.0,1077.6 Q153.0,1080.6 156.0,1083.6 Q159.0,1080.6 156.0,1077.6Z" fill="#f8f8f8"/><path d="M156.0,1085.9 Q153.0,1088.9 156.0,1091.9 Q159.0,1088.9 156.0,1085.9Z" fill="#f8f8f8"/><path d="M156.0,1094.1 Q153.0,1097.1 156.0,1100.1 Q159.0,1097.1 156.0,1094.1Z" fill="#f8f8f8"/><path d="M156.0,1102.4 Q153.0,1105.4 156.0,1108.4 Q159.0,1105.4 156.0,1102.4Z" fill="#f8f8f8"/><path d="M156.0,1110.6 Q153.0,1113.6 156.0,1116.6 Q159.0,1113.6 156.0,1110.6Z" fill="#f8f8f8"/><path d="M156.0,1118.8 Q153.0,1121.8 156.0,1124.8 Q159.0,1121.8 156.0,1118.8Z" fill="#f8f8f8"/><path d="M156.0,1127.1 Q153.0,1130.1 156.0,1133.1 Q159.0,1130.1 156.0,1127.1Z" fill="#f8f8f8"/><path d="M156.0,1135.3 Q153.0,1138.3 156.0,1141.3 Q159.0,1138.3 156.0,1135.3Z" fill="#f8f8f8"/><path d="M156.0,1143.6 Q153.0,1146.6 156.0,1149.6 Q159.0,1146.6 156.0,1143.6Z" fill="#f8f8f8"/><path d="M156.0,1151.8 Q153.0,1154.8 156.0,1157.8 Q159.0,1154.8 156.0,1151.8Z" fill="#f8f8f8"/><path d="M156.0,1160.0 Q153.0,1163.0 156.0,1166.0 Q159.0,1163.0 156.0,1160.0Z" fill="#f8f8f8"/><path d="M156.0,1168.3 Q153.0,1171.3 156.0,1174.3 Q159.0,1171.3 156.0,1168.3Z" fill="#f8f8f8"/><path d="M156.0,1176.5 Q153.0,1179.5 156.0,1182.5 Q159.0,1179.5 156.0,1176.5Z" fill="#f8f8f8"/><path d="M156.0,1184.8 Q153.0,1187.8 156.0,1190.8 Q159.0,1187.8 156.0,1184.8Z" fill="#f8f8f8"/><path d="M156.0,1193.0 Q153.0,1196.0 156.0,1199.0 Q159.0,1196.0 156.0,1193.0Z" fill="#f8f8f8"/><path d="M156.0,1201.2 Q153.0,1204.2 156.0,1207.2 Q159.0,1204.2 156.0,1201.2Z" fill="#f8f8f8"/><path d="M156.0,1209.5 Q153.0,1212.5 156.0,1215.5 Q159.0,1212.5 156.0,1209.5Z" fill="#f8f8f8"/><path d="M156.0,1217.7 Q153.0,1220.7 156.0,1223.7 Q159.0,1220.7 156.0,1217.7Z" fill="#f8f8f8"/><path d="M156.0,1226.0 Q153.0,1229.0 156.0,1232.0 Q159.0,1229.0 156.0,1226.0Z" fill="#f8f8f8"/><path d="M156.0,1234.2 Q153.0,1237.2 156.0,1240.2 Q159.0,1237.2 156.0,1234.2Z" fill="#f8f8f8"/><path d="M156.0,1242.4 Q153.0,1245.4 156.0,1248.4 Q159.0,1245.4 156.0,1242.4Z" fill="#f8f8f8"/>
<path d="M168.0,286.1 Q165.0,289.1 168.0,292.1 Q171.0,289.1 168.0,286.1Z" fill="#f8f8f8"/><path d="M168.0,294.4 Q165.0,297.4 168.0,300.4 Q171.0,297.4 168.0,294.4Z" fill="#f8f8f8"/><path d="M168.0,302.6 Q165.0,305.6 168.0,308.6 Q171.0,305.6 168.0,302.6Z" fill="#f8f8f8"/><path d="M168.0,310.8 Q165.0,313.8 168.0,316.8 Q171.0,313.8 168.0,310.8Z" fill="#f8f8f8"/><path d="M168.0,319.1 Q165.0,322.1 168.0,325.1 Q171.0,322.1 168.0,319.1Z" fill="#f8f8f8"/><path d="M168.0,327.3 Q165.0,330.3 168.0,333.3 Q171.0,330.3 168.0,327.3Z" fill="#f8f8f8"/><path d="M168.0,335.6 Q165.0,338.6 168.0,341.6 Q171.0,338.6 168.0,335.6Z" fill="#f8f8f8"/><path d="M168.0,343.8 Q165.0,346.8 168.0,349.8 Q171.0,346.8 168.0,343.8Z" fill="#f8f8f8"/><path d="M168.0,352.0 Q165.0,355.0 168.0,358.0 Q171.0,355.0 168.0,352.0Z" fill="#f8f8f8"/><path d="M168.0,360.3 Q165.0,363.3 168.0,366.3 Q171.0,363.3 168.0,360.3Z" fill="#f8f8f8"/><path d="M168.0,368.5 Q165.0,371.5 168.0,374.5 Q171.0,371.5 168.0,368.5Z" fill="#f8f8f8"/><path d="M168.0,376.8 Q165.0,379.8 168.0,382.8 Q171.0,379.8 168.0,376.8Z" fill="#f8f8f8"/>
<path d="M168.0,476.1 Q165.0,479.1 168.0,482.1 Q171.0,479.1 168.0,476.1Z" fill="#f8f8f8"/><path d="M168.0,484.4 Q165.0,487.4 168.0,490.4 Q171.0,487.4 168.0,484.4Z" fill="#f8f8f8"/><path d="M168.0,492.6 Q165.0,495.6 168.0,498.6 Q171.0,495.6 168.0,492.6Z" fill="#f8f8f8"/><path d="M168.0,500.8 Q165.0,503.8 168.0,506.8 Q171.0,503.8 168.0,500.8Z" fill="#f8f8f8"/><path d="M168.0,509.1 Q165.0,512.1 168.0,515.1 Q171.0,512.1 168.0,509.1Z" fill="#f8f8f8"/><path d="M168.0,517.3 Q165.0,520.3 168.0,523.3 Q171.0,520.3 168.0,517.3Z" fill="#f8f8f8"/><path d="M168.0,525.6 Q165.0,528.6 168.0,531.6 Q171.0,528.6 168.0,525.6Z" fill="#f8f8f8"/><path d="M168.0,533.8 Q165.0,536.8 168.0,539.8 Q171.0,536.8 168.0,533.8Z" fill="#f8f8f8"/><path d="M168.0,542.0 Q165.0,545.0 168.0,548.0 Q171.0,545.0 168.0,542.0Z" fill="#f8f8f8"/><path d="M168.0,550.3 Q165.0,553.3 168.0,556.3 Q171.0,553.3 168.0,550.3Z" fill="#f8f8f8"/><path d="M168.0,558.5 Q165.0,561.5 168.0,564.5 Q171.0,561.5 168.0,558.5Z" fill="#f8f8f8"/><path d="M168.0,566.8 Q165.0,569.8 168.0,572.8 Q171.0,569.8 168.0,566.8Z" fill="#f8f8f8"/><path d="M168.0,575.0 Q165.0,578.0 168.0,581.0 Q171.0,578.0 168.0,575.0Z" fill="#f8f8f8"/><path d="M168.0,583.2 Q165.0,586.2 168.0,589.2 Q171.0,586.2 168.0,583.2Z" fill="#f8f8f8"/><path d="M168.0,591.5 Q165.0,594.5 168.0,597.5 Q171.0,594.5 168.0,591.5Z" fill="#f8f8f8"/><path d="M168.0,599.7 Q165.0,602.7 168.0,605.7 Q171.0,602.7 168.0,599.7Z" fill="#f8f8f8"/><path d="M168.0,608.0 Q165.0,611.0 168.0,614.0 Q171.0,611.0 168.0,608.0Z" fill="#f8f8f8"/><path d="M168.0,616.2 Q165.0,619.2 168.0,622.2 Q171.0,619.2 168.0,616.2Z" fill="#f8f8f8"/><path d="M168.0,624.4 Q165.0,627.4 168.0,630.4 Q171.0,627.4 168.0,624.4Z" fill="#f8f8f8"/><path d="M168.0,632.7 Q165.0,635.7 168.0,638.7 Q171.0,635.7 168.0,632.7Z" fill="#f8f8f8"/><path d="M168.0,640.9 Q165.0,643.9 168.0,646.9 Q171.0,643.9 168.0,640.9Z" fill="#f8f8f8"/><path d="M168.0,649.2 Q165.0,652.2 168.0,655.2 Q171.0,652.2 168.0,649.2Z" fill="#f8f8f8"/><path d="M168.0,657.4 Q165.0,660.4 168.0,663.4 Q171.0,660.4 168.0,657.4Z" fill="#f8f8f8"/><path d="M168.0,665.6 Q165.0,668.6 168.0,671.6 Q171.0,668.6 168.0,665.6Z" fill="#f8f8f8"/><path d="M168.0,673.9 Q165.0,676.9 168.0,679.9 Q171.0,676.9 168.0,673.9Z" fill="#f8f8f8"/><path d="M168.0,682.1 Q165.0,685.1 168.0,688.1 Q171.0,685.1 168.0,682.1Z" fill="#f8f8f8"/><path d="M168.0,690.4 Q165.0,693.4 168.0,696.4 Q171.0,693.4 168.0,690.4Z" fill="#f8f8f8"/><path d="M168.0,698.6 Q165.0,701.6 168.0,704.6 Q171.0,701.6 168.0,698.6Z" fill="#f8f8f8"/><path d="M168.0,706.8 Q165.0,709.8 168.0,712.8 Q171.0,709.8 168.0,706.8Z" fill="#f8f8f8"/><path d="M168.0,715.1 Q165.0,718.1 168.0,721.1 Q171.0,718.1 168.0,715.1Z" fill="#f8f8f8"/><path d="M168.0,723.3 Q165.0,726.3 168.0,729.3 Q171.0,726.3 168.0,723.3Z" fill="#f8f8f8"/><path d="M168.0,731.6 Q165.0,734.6 168.0,737.6 Q171.0,734.6 168.0,731.6Z" fill="#f8f8f8"/><path d="M168.0,739.8 Q165.0,742.8 168.0,745.8 Q171.0,742.8 168.0,739.8Z" fill="#f8f8f8"/><path d="M168.0,748.0 Q165.0,751.0 168.0,754.0 Q171.0,751.0 168.0,748.0Z" fill="#f8f8f8"/><path d="M168.0,756.3 Q165.0,759.3 168.0,762.3 Q171.0,759.3 168.0,756.3Z" fill="#f8f8f8"/><path d="M168.0,764.5 Q165.0,767.5 168.0,770.5 Q171.0,767.5 168.0,764.5Z" fill="#f8f8f8"/><path d="M168.0,772.8 Q165.0,775.8 168.0,778.8 Q171.0,775.8 168.0,772.8Z" fill="#f8f8f8"/><path d="M168.0,781.0 Q165.0,784.0 168.0,787.0 Q171.0,784.0 168.0,781.0Z" fill="#f8f8f8"/><path d="M168.0,789.2 Q165.0,792.2 168.0,795.2 Q171.0,792.2 168.0,789.2Z" fill="#f8f8f8"/><path d="M168.0,797.5 Q165.0,800.5 168.0,803.5 Q171.0,800.5 168.0,797.5Z" fill="#f8f8f8"/><path d="M168.0,805.7 Q165.0,808.7 168.0,811.7 Q171.0,808.7 168.0,805.7Z" fill="#f8f8f8"/><path d="M168.0,814.0 Q165.0,817.0 168.0,820.0 Q171.0,817.0 168.0,814.0Z" fill="#f8f8f8"/><path d="M168.0,822.2 Q165.0,825.2 168.0,828.2 Q171.0,825.2 168.0,822.2Z" fill="#f8f8f8"/><path d="M168.0,830.4 Q165.0,833.4 168.0,836.4 Q171.0,833.4 168.0,830.4Z" fill="#f8f8f8"/><path d="M168.0,838.7 Q165.0,841.7 168.0,844.7 Q171.0,841.7 168.0,838.7Z" fill="#f8f8f8"/><path d="M168.0,846.9 Q165.0,849.9 168.0,852.9 Q171.0,849.9 168.0,846.9Z" fill="#f8f8f8"/><path d="M168.0,855.2 Q165.0,858.2 168.0,861.2 Q171.0,858.2 168.0,855.2Z" fill="#f8f8f8"/><path d="M168.0,863.4 Q165.0,866.4 168.0,869.4 Q171.0,866.4 168.0,863.4Z" fill="#f8f8f8"/><path d="M168.0,871.6 Q165.0,874.6 168.0,877.6 Q171.0,874.6 168.0,871.6Z" fill="#f8f8f8"/><path d="M168.0,879.9 Q165.0,882.9 168.0,885.9 Q171.0,882.9 168.0,879.9Z" fill="#f8f8f8"/><path d="M168.0,888.1 Q165.0,891.1 168.0,894.1 Q171.0,891.1 168.0,888.1Z" fill="#f8f8f8"/><path d="M168.0,896.4 Q165.0,899.4 168.0,902.4 Q171.0,899.4 168.0,896.4Z" fill="#f8f8f8"/><path d="M168.0,904.6 Q165.0,907.6 168.0,910.6 Q171.0,907.6 168.0,904.6Z" fill="#f8f8f8"/><path d="M168.0,912.8 Q165.0,915.8 168.0,918.8 Q171.0,915.8 168.0,912.8Z" fill="#f8f8f8"/><path d="M168.0,921.1 Q165.0,924.1 168.0,927.1 Q171.0,924.1 168.0,921.1Z" fill="#f8f8f8"/><path d="M168.0,929.3 Q165.0,932.3 168.0,935.3 Q171.0,932.3 168.0,929.3Z" fill="#f8f8f8"/><path d="M168.0,937.6 Q165.0,940.6 168.0,943.6 Q171.0,940.6 168.0,937.6Z" fill="#f8f8f8"/><path d="M168.0,945.8 Q165.0,948.8 168.0,951.8 Q171.0,948.8 168.0,945.8Z" fill="#f8f8f8"/><path d="M168.0,954.0 Q165.0,957.0 168.0,960.0 Q171.0,957.0 168.0,954.0Z" fill="#f8f8f8"/><path d="M168.0,962.3 Q165.0,965.3 168.0,968.3 Q171.0,965.3 168.0,962.3Z" fill="#f8f8f8"/><path d="M168.0,970.5 Q165.0,973.5 168.0,976.5 Q171.0,973.5 168.0,970.5Z" fill="#f8f8f8"/><path d="M168.0,978.8 Q165.0,981.8 168.0,984.8 Q171.0,981.8 168.0,978.8Z" fill="#f8f8f8"/><path d="M168.0,987.0 Q165.0,990.0 168.0,993.0 Q171.0,990.0 168.0,987.0Z" fill="#f8f8f8"/><path d="M168.0,995.2 Q165.0,998.2 168.0,1001.2 Q171.0,998.2 168.0,995.2Z" fill="#f8f8f8"/><path d="M168.0,1003.5 Q165.0,1006.5 168.0,1009.5 Q171.0,1006.5 168.0,1003.5Z" fill="#f8f8f8"/><path d="M168.0,1011.7 Q165.0,1014.7 168.0,1017.7 Q171.0,1014.7 168.0,1011.7Z" fill="#f8f8f8"/><path d="M168.0,1020.0 Q165.0,1023.0 168.0,1026.0 Q171.0,1023.0 168.0,1020.0Z" fill="#f8f8f8"/><path d="M168.0,1028.2 Q165.0,1031.2 168.0,1034.2 Q171.0,1031.2 168.0,1028.2Z" fill="#f8f8f8"/><path d="M168.0,1036.4 Q165.0,1039.4 168.0,1042.4 Q171.0,1039.4 168.0,1036.4Z" fill="#f8f8f8"/><path d="M168.0,1044.7 Q165.0,1047.7 168.0,1050.7 Q171.0,1047.7 168.0,1044.7Z" fill="#f8f8f8"/><path d="M168.0,1052.9 Q165.0,1055.9 168.0,1058.9 Q171.0,1055.9 168.0,1052.9Z" fill="#f8f8f8"/><path d="M168.0,1061.2 Q165.0,1064.2 168.0,1067.2 Q171.0,1064.2 168.0,1061.2Z" fill="#f8f8f8"/><path d="M168.0,1069.4 Q165.0,1072.4 168.0,1075.4 Q171.0,1072.4 168.0,1069.4Z" fill="#f8f8f8"/><path d="M168.0,1077.6 Q165.0,1080.6 168.0,1083.6 Q171.0,1080.6 168.0,1077.6Z" fill="#f8f8f8"/><path d="M168.0,1085.9 Q165.0,1088.9 168.0,1091.9 Q171.0,1088.9 168.0,1085.9Z" fill="#f8f8f8"/><path d="M168.0,1094.1 Q165.0,1097.1 168.0,1100.1 Q171.0,1097.1 168.0,1094.1Z" fill="#f8f8f8"/><path d="M168.0,1102.4 Q165.0,1105.4 168.0,1108.4 Q171.0,1105.4 168.0,1102.4Z" fill="#f8f8f8"/><path d="M168.0,1110.6 Q165.0,1113.6 168.0,1116.6 Q171.0,1113.6 168.0,1110.6Z" fill="#f8f8f8"/><path d="M168.0,1118.8 Q165.0,1121.8 168.0,1124.8 Q171.0,1121.8 168.0,1118.8Z" fill="#f8f8f8"/><path d="M168.0,1127.1 Q165.0,1130.1 168.0,1133.1 Q171.0,1130.1 168.0,1127.1Z" fill="#f8f8f8"/><path d="M168.0,1135.3 Q165.0,1138.3 168.0,1141.3 Q171.0,1138.3 168.0,1135.3Z" fill="#f8f8f8"/><path d="M168.0,1143.6 Q165.0,1146.6 168.0,1149.6 Q171.0,1146.6 168.0,1143.6Z" fill="#f8f8f8"/><path d="M168.0,1151.8 Q165.0,1154.8 168.0,1157.8 Q171.0,1154.8 168.0,1151.8Z" fill="#f8f8f8"/><path d="M168.0,1160.0 Q165.0,1163.0 168.0,1166.0 Q171.0,1163.0 168.0,1160.0Z" fill="#f8f8f8"/><path d="M168.0,1168.3 Q165.0,1171.3 168.0,1174.3 Q171.0,1171.3 168.0,1168.3Z" fill="#f8f8f8"/><path d="M168.0,1176.5 Q165.0,1179.5 168.0,1182.5 Q171.0,1179.5 168.0,1176.5Z" fill="#f8f8f8"/><path d="M168.0,1184.8 Q165.0,1187.8 168.0,1190.8 Q171.0,1187.8 168.0,1184.8Z" fill="#f8f8f8"/><path d="M168.0,1193.0 Q165.0,1196.0 168.0,1199.0 Q171.0,1196.0 168.0,1193.0Z" fill="#f8f8f8"/><path d="M168.0,1201.2 Q165.0,1204.2 168.0,1207.2 Q171.0,1204.2 168.0,1201.2Z" fill="#f8f8f8"/><path d="M168.0,1209.5 Q165.0,1212.5 168.0,1215.5 Q171.0,1212.5 168.0,1209.5Z" fill="#f8f8f8"/><path d="M168.0,1217.7 Q165.0,1220.7 168.0,1223.7 Q171.0,1220.7 168.0,1217.7Z" fill="#f8f8f8"/><path d="M168.0,1226.0 Q165.0,1229.0 168.0,1232.0 Q171.0,1229.0 168.0,1226.0Z" fill="#f8f8f8"/><path d="M168.0,1234.2 Q165.0,1237.2 168.0,1240.2 Q171.0,1237.2 168.0,1234.2Z" fill="#f8f8f8"/><path d="M168.0,1242.4 Q165.0,1245.4 168.0,1248.4 Q171.0,1245.4 168.0,1242.4Z" fill="#f8f8f8"/>
<rect x="136.5" y="381.5" width="38" height="90" fill="#1a1a1a" stroke="#2e2e2e" stroke-width="1.5"/>
<rect x="140" y="385" width="31" height="83" fill="#232323"/>
<text transform="translate(164.5,465) rotate(-90)" font-size="23" font-weight="bold" font-style="italic" fill="#fff" stroke="#fff" stroke-width="0.7" textLength="75" lengthAdjust="spacingAndGlyphs">PetBonus</text>
<rect x="127" y="652" width="55" height="37" rx="10" fill="none" stroke="#1a1a1a" stroke-width="7"/>
<rect x="124" y="649" width="61" height="43" rx="12" fill="none" stroke="#3a3a3a" stroke-width="1"/>
<path d="M126,1240 C126,1234 132,1232 140,1232 L178,1232 C186,1232 191,1236 191,1244 C191,1258 176,1280 165,1286 C160,1289 156,1289 152,1286 C140,1278 126,1258 126,1240 Z" fill="#151515"/>
<path d="M134,1249 L184,1249 L182,1254 L136,1254 Z" fill="#fff"/>
<path d="M140,1259 L178,1259 C176,1266 168,1272 160,1273 C152,1272 144,1266 140,1259 Z" fill="#fff"/>
<rect x="153" y="1268" width="13" height="10" rx="3" fill="#1c1c1c"/>
<path d="M147,1287 L171,1287 C178,1300 186,1330 187,1352 C188,1366 180,1372 170,1371 C158,1370 145,1366 138,1358 C132,1350 132,1340 134,1332 L140,1300 Z" fill="#151515"/>
<path d="M150,1299 L167,1299 C172,1318 179,1343 178,1358 C170,1361 156,1359 147,1353 C142,1349 141,1342 142,1335 Z" fill="#fff"/>
<rect x="133" y="1306" width="17" height="27" rx="3" fill="#6e6e6e" transform="rotate(6 141 1320)"/>
<rect x="134" y="1313" width="15" height="3" fill="#555" transform="rotate(6 141 1320)"/>
<rect x="134" y="1322" width="15" height="3" fill="#555" transform="rotate(6 141 1320)"/>
<g clip-path="url(#c1)">
<path d="M410,169 L760,163 L760,281 L410,281 Z" fill="url(#bigH)"/>
<path d="M405.0,196.0 Q412.0,202.0 419.0,196.0 Q412.0,190.0 405.0,196.0Z" fill="#d0d0d0"/><path d="M425.0,196.0 Q432.0,202.0 439.0,196.0 Q432.0,190.0 425.0,196.0Z" fill="#d0d0d0"/><path d="M445.0,196.0 Q452.0,202.0 459.0,196.0 Q452.0,190.0 445.0,196.0Z" fill="#d0d0d0"/><path d="M465.0,196.0 Q472.0,202.0 479.0,196.0 Q472.0,190.0 465.0,196.0Z" fill="#d0d0d0"/><path d="M485.0,196.0 Q492.0,202.0 499.0,196.0 Q492.0,190.0 485.0,196.0Z" fill="#d0d0d0"/><path d="M505.0,196.0 Q512.0,202.0 519.0,196.0 Q512.0,190.0 505.0,196.0Z" fill="#d0d0d0"/><path d="M525.0,196.0 Q532.0,202.0 539.0,196.0 Q532.0,190.0 525.0,196.0Z" fill="#d0d0d0"/><path d="M545.0,196.0 Q552.0,202.0 559.0,196.0 Q552.0,190.0 545.0,196.0Z" fill="#d0d0d0"/><path d="M565.0,196.0 Q572.0,202.0 579.0,196.0 Q572.0,190.0 565.0,196.0Z" fill="#d0d0d0"/><path d="M585.0,196.0 Q592.0,202.0 599.0,196.0 Q592.0,190.0 585.0,196.0Z" fill="#d0d0d0"/><path d="M605.0,196.0 Q612.0,202.0 619.0,196.0 Q612.0,190.0 605.0,196.0Z" fill="#d0d0d0"/><path d="M625.0,196.0 Q632.0,202.0 639.0,196.0 Q632.0,190.0 625.0,196.0Z" fill="#d0d0d0"/><path d="M645.0,196.0 Q652.0,202.0 659.0,196.0 Q652.0,190.0 645.0,196.0Z" fill="#d0d0d0"/><path d="M665.0,196.0 Q672.0,202.0 679.0,196.0 Q672.0,190.0 665.0,196.0Z" fill="#d0d0d0"/><path d="M685.0,196.0 Q692.0,202.0 699.0,196.0 Q692.0,190.0 685.0,196.0Z" fill="#d0d0d0"/><path d="M705.0,196.0 Q712.0,202.0 719.0,196.0 Q712.0,190.0 705.0,196.0Z" fill="#d0d0d0"/><path d="M725.0,196.0 Q732.0,202.0 739.0,196.0 Q732.0,190.0 725.0,196.0Z" fill="#d0d0d0"/><path d="M745.0,196.0 Q752.0,202.0 759.0,196.0 Q752.0,190.0 745.0,196.0Z" fill="#d0d0d0"/>
<path d="M405.0,222.0 Q412.0,228.0 419.0,222.0 Q412.0,216.0 405.0,222.0Z" fill="#d0d0d0"/><path d="M425.0,222.0 Q432.0,228.0 439.0,222.0 Q432.0,216.0 425.0,222.0Z" fill="#d0d0d0"/><path d="M445.0,222.0 Q452.0,228.0 459.0,222.0 Q452.0,216.0 445.0,222.0Z" fill="#d0d0d0"/><path d="M465.0,222.0 Q472.0,228.0 479.0,222.0 Q472.0,216.0 465.0,222.0Z" fill="#d0d0d0"/><path d="M485.0,222.0 Q492.0,228.0 499.0,222.0 Q492.0,216.0 485.0,222.0Z" fill="#d0d0d0"/><path d="M505.0,222.0 Q512.0,228.0 519.0,222.0 Q512.0,216.0 505.0,222.0Z" fill="#d0d0d0"/><path d="M525.0,222.0 Q532.0,228.0 539.0,222.0 Q532.0,216.0 525.0,222.0Z" fill="#d0d0d0"/><path d="M545.0,222.0 Q552.0,228.0 559.0,222.0 Q552.0,216.0 545.0,222.0Z" fill="#d0d0d0"/><path d="M565.0,222.0 Q572.0,228.0 579.0,222.0 Q572.0,216.0 565.0,222.0Z" fill="#d0d0d0"/><path d="M585.0,222.0 Q592.0,228.0 599.0,222.0 Q592.0,216.0 585.0,222.0Z" fill="#d0d0d0"/><path d="M605.0,222.0 Q612.0,228.0 619.0,222.0 Q612.0,216.0 605.0,222.0Z" fill="#d0d0d0"/><path d="M625.0,222.0 Q632.0,228.0 639.0,222.0 Q632.0,216.0 625.0,222.0Z" fill="#d0d0d0"/><path d="M645.0,222.0 Q652.0,228.0 659.0,222.0 Q652.0,216.0 645.0,222.0Z" fill="#d0d0d0"/><path d="M665.0,222.0 Q672.0,228.0 679.0,222.0 Q672.0,216.0 665.0,222.0Z" fill="#d0d0d0"/><path d="M685.0,222.0 Q692.0,228.0 699.0,222.0 Q692.0,216.0 685.0,222.0Z" fill="#d0d0d0"/><path d="M705.0,222.0 Q712.0,228.0 719.0,222.0 Q712.0,216.0 705.0,222.0Z" fill="#d0d0d0"/><path d="M725.0,222.0 Q732.0,228.0 739.0,222.0 Q732.0,216.0 725.0,222.0Z" fill="#d0d0d0"/><path d="M745.0,222.0 Q752.0,228.0 759.0,222.0 Q752.0,216.0 745.0,222.0Z" fill="#d0d0d0"/>
<path d="M405.0,250.0 Q412.0,256.0 419.0,250.0 Q412.0,244.0 405.0,250.0Z" fill="#d0d0d0"/><path d="M425.0,250.0 Q432.0,256.0 439.0,250.0 Q432.0,244.0 425.0,250.0Z" fill="#d0d0d0"/><path d="M445.0,250.0 Q452.0,256.0 459.0,250.0 Q452.0,244.0 445.0,250.0Z" fill="#d0d0d0"/><path d="M465.0,250.0 Q472.0,256.0 479.0,250.0 Q472.0,244.0 465.0,250.0Z" fill="#d0d0d0"/><path d="M485.0,250.0 Q492.0,256.0 499.0,250.0 Q492.0,244.0 485.0,250.0Z" fill="#d0d0d0"/><path d="M505.0,250.0 Q512.0,256.0 519.0,250.0 Q512.0,244.0 505.0,250.0Z" fill="#d0d0d0"/><path d="M525.0,250.0 Q532.0,256.0 539.0,250.0 Q532.0,244.0 525.0,250.0Z" fill="#d0d0d0"/><path d="M545.0,250.0 Q552.0,256.0 559.0,250.0 Q552.0,244.0 545.0,250.0Z" fill="#d0d0d0"/><path d="M565.0,250.0 Q572.0,256.0 579.0,250.0 Q572.0,244.0 565.0,250.0Z" fill="#d0d0d0"/><path d="M585.0,250.0 Q592.0,256.0 599.0,250.0 Q592.0,244.0 585.0,250.0Z" fill="#d0d0d0"/><path d="M605.0,250.0 Q612.0,256.0 619.0,250.0 Q612.0,244.0 605.0,250.0Z" fill="#d0d0d0"/><path d="M625.0,250.0 Q632.0,256.0 639.0,250.0 Q632.0,244.0 625.0,250.0Z" fill="#d0d0d0"/><path d="M645.0,250.0 Q652.0,256.0 659.0,250.0 Q652.0,244.0 645.0,250.0Z" fill="#d0d0d0"/><path d="M665.0,250.0 Q672.0,256.0 679.0,250.0 Q672.0,244.0 665.0,250.0Z" fill="#d0d0d0"/><path d="M685.0,250.0 Q692.0,256.0 699.0,250.0 Q692.0,244.0 685.0,250.0Z" fill="#d0d0d0"/><path d="M705.0,250.0 Q712.0,256.0 719.0,250.0 Q712.0,244.0 705.0,250.0Z" fill="#d0d0d0"/><path d="M725.0,250.0 Q732.0,256.0 739.0,250.0 Q732.0,244.0 725.0,250.0Z" fill="#d0d0d0"/><path d="M745.0,250.0 Q752.0,256.0 759.0,250.0 Q752.0,244.0 745.0,250.0Z" fill="#d0d0d0"/>
<path d="M517,155 C517,150 540,150 580,150 C620,150 644,150 644,155 L644,430 L517,430 Z" fill="url(#bigV)"/>
<rect x="517" y="150" width="127" height="280" fill="#ffffff" fill-opacity="0.08"/>
<path d="M551.0,151.4 Q543.5,158.4 551.0,165.4 Q558.5,158.4 551.0,151.4Z" fill="#cccccc"/><path d="M551.0,170.9 Q543.5,177.9 551.0,184.9 Q558.5,177.9 551.0,170.9Z" fill="#cccccc"/><path d="M551.0,190.4 Q543.5,197.4 551.0,204.4 Q558.5,197.4 551.0,190.4Z" fill="#cccccc"/><path d="M551.0,209.9 Q543.5,216.9 551.0,223.9 Q558.5,216.9 551.0,209.9Z" fill="#cccccc"/><path d="M551.0,229.4 Q543.5,236.4 551.0,243.4 Q558.5,236.4 551.0,229.4Z" fill="#cccccc"/><path d="M551.0,248.9 Q543.5,255.9 551.0,262.9 Q558.5,255.9 551.0,248.9Z" fill="#cccccc"/><path d="M551.0,268.4 Q543.5,275.4 551.0,282.4 Q558.5,275.4 551.0,268.4Z" fill="#cccccc"/><path d="M551.0,287.9 Q543.5,294.9 551.0,301.9 Q558.5,294.9 551.0,287.9Z" fill="#cccccc"/><path d="M551.0,307.4 Q543.5,314.4 551.0,321.4 Q558.5,314.4 551.0,307.4Z" fill="#cccccc"/><path d="M551.0,326.9 Q543.5,333.9 551.0,340.9 Q558.5,333.9 551.0,326.9Z" fill="#cccccc"/><path d="M551.0,346.4 Q543.5,353.4 551.0,360.4 Q558.5,353.4 551.0,346.4Z" fill="#cccccc"/><path d="M551.0,365.9 Q543.5,372.9 551.0,379.9 Q558.5,372.9 551.0,365.9Z" fill="#cccccc"/><path d="M551.0,385.4 Q543.5,392.4 551.0,399.4 Q558.5,392.4 551.0,385.4Z" fill="#cccccc"/><path d="M551.0,404.9 Q543.5,411.9 551.0,418.9 Q558.5,411.9 551.0,404.9Z" fill="#cccccc"/>
<path d="M580.0,151.4 Q572.5,158.4 580.0,165.4 Q587.5,158.4 580.0,151.4Z" fill="#cccccc"/><path d="M580.0,170.9 Q572.5,177.9 580.0,184.9 Q587.5,177.9 580.0,170.9Z" fill="#cccccc"/><path d="M580.0,190.4 Q572.5,197.4 580.0,204.4 Q587.5,197.4 580.0,190.4Z" fill="#cccccc"/><path d="M580.0,209.9 Q572.5,216.9 580.0,223.9 Q587.5,216.9 580.0,209.9Z" fill="#cccccc"/><path d="M580.0,229.4 Q572.5,236.4 580.0,243.4 Q587.5,236.4 580.0,229.4Z" fill="#cccccc"/><path d="M580.0,248.9 Q572.5,255.9 580.0,262.9 Q587.5,255.9 580.0,248.9Z" fill="#cccccc"/><path d="M580.0,268.4 Q572.5,275.4 580.0,282.4 Q587.5,275.4 580.0,268.4Z" fill="#cccccc"/><path d="M580.0,287.9 Q572.5,294.9 580.0,301.9 Q587.5,294.9 580.0,287.9Z" fill="#cccccc"/><path d="M580.0,307.4 Q572.5,314.4 580.0,321.4 Q587.5,314.4 580.0,307.4Z" fill="#cccccc"/><path d="M580.0,326.9 Q572.5,333.9 580.0,340.9 Q587.5,333.9 580.0,326.9Z" fill="#cccccc"/><path d="M580.0,346.4 Q572.5,353.4 580.0,360.4 Q587.5,353.4 580.0,346.4Z" fill="#cccccc"/><path d="M580.0,365.9 Q572.5,372.9 580.0,379.9 Q587.5,372.9 580.0,365.9Z" fill="#cccccc"/><path d="M580.0,385.4 Q572.5,392.4 580.0,399.4 Q587.5,392.4 580.0,385.4Z" fill="#cccccc"/><path d="M580.0,404.9 Q572.5,411.9 580.0,418.9 Q587.5,411.9 580.0,404.9Z" fill="#cccccc"/>
<path d="M610.0,151.4 Q602.5,158.4 610.0,165.4 Q617.5,158.4 610.0,151.4Z" fill="#cccccc"/><path d="M610.0,170.9 Q602.5,177.9 610.0,184.9 Q617.5,177.9 610.0,170.9Z" fill="#cccccc"/><path d="M610.0,190.4 Q602.5,197.4 610.0,204.4 Q617.5,197.4 610.0,190.4Z" fill="#cccccc"/><path d="M610.0,209.9 Q602.5,216.9 610.0,223.9 Q617.5,216.9 610.0,209.9Z" fill="#cccccc"/><path d="M610.0,229.4 Q602.5,236.4 610.0,243.4 Q617.5,236.4 610.0,229.4Z" fill="#cccccc"/><path d="M610.0,248.9 Q602.5,255.9 610.0,262.9 Q617.5,255.9 610.0,248.9Z" fill="#cccccc"/><path d="M610.0,268.4 Q602.5,275.4 610.0,282.4 Q617.5,275.4 610.0,268.4Z" fill="#cccccc"/><path d="M610.0,287.9 Q602.5,294.9 610.0,301.9 Q617.5,294.9 610.0,287.9Z" fill="#cccccc"/><path d="M610.0,307.4 Q602.5,314.4 610.0,321.4 Q617.5,314.4 610.0,307.4Z" fill="#cccccc"/><path d="M610.0,326.9 Q602.5,333.9 610.0,340.9 Q617.5,333.9 610.0,326.9Z" fill="#cccccc"/><path d="M610.0,346.4 Q602.5,353.4 610.0,360.4 Q617.5,353.4 610.0,346.4Z" fill="#cccccc"/><path d="M610.0,365.9 Q602.5,372.9 610.0,379.9 Q617.5,372.9 610.0,365.9Z" fill="#cccccc"/><path d="M610.0,385.4 Q602.5,392.4 610.0,399.4 Q617.5,392.4 610.0,385.4Z" fill="#cccccc"/><path d="M610.0,404.9 Q602.5,411.9 610.0,418.9 Q617.5,411.9 610.0,404.9Z" fill="#cccccc"/>
</g>
<g clip-path="url(#c2)">
<rect x="508" y="590" width="149" height="320" fill="url(#bigV)"/>
<path d="M549.0,588.1 Q542.0,596.1 549.0,604.1 Q556.0,596.1 549.0,588.1Z" fill="#c4c4c4"/><path d="M549.0,612.4 Q542.0,620.4 549.0,628.4 Q556.0,620.4 549.0,612.4Z" fill="#c4c4c4"/><path d="M549.0,636.7 Q542.0,644.7 549.0,652.7 Q556.0,644.7 549.0,636.7Z" fill="#c4c4c4"/><path d="M549.0,661.0 Q542.0,669.0 549.0,677.0 Q556.0,669.0 549.0,661.0Z" fill="#c4c4c4"/><path d="M549.0,685.3 Q542.0,693.3 549.0,701.3 Q556.0,693.3 549.0,685.3Z" fill="#c4c4c4"/><path d="M549.0,709.6 Q542.0,717.6 549.0,725.6 Q556.0,717.6 549.0,709.6Z" fill="#c4c4c4"/><path d="M549.0,733.9 Q542.0,741.9 549.0,749.9 Q556.0,741.9 549.0,733.9Z" fill="#c4c4c4"/><path d="M549.0,758.2 Q542.0,766.2 549.0,774.2 Q556.0,766.2 549.0,758.2Z" fill="#c4c4c4"/><path d="M549.0,782.5 Q542.0,790.5 549.0,798.5 Q556.0,790.5 549.0,782.5Z" fill="#c4c4c4"/><path d="M549.0,806.8 Q542.0,814.8 549.0,822.8 Q556.0,814.8 549.0,806.8Z" fill="#c4c4c4"/><path d="M549.0,831.1 Q542.0,839.1 549.0,847.1 Q556.0,839.1 549.0,831.1Z" fill="#c4c4c4"/><path d="M549.0,855.4 Q542.0,863.4 549.0,871.4 Q556.0,863.4 549.0,855.4Z" fill="#c4c4c4"/><path d="M549.0,879.7 Q542.0,887.7 549.0,895.7 Q556.0,887.7 549.0,879.7Z" fill="#c4c4c4"/>
<path d="M583.0,588.1 Q576.0,596.1 583.0,604.1 Q590.0,596.1 583.0,588.1Z" fill="#c4c4c4"/><path d="M583.0,612.4 Q576.0,620.4 583.0,628.4 Q590.0,620.4 583.0,612.4Z" fill="#c4c4c4"/><path d="M583.0,636.7 Q576.0,644.7 583.0,652.7 Q590.0,644.7 583.0,636.7Z" fill="#c4c4c4"/><path d="M583.0,661.0 Q576.0,669.0 583.0,677.0 Q590.0,669.0 583.0,661.0Z" fill="#c4c4c4"/><path d="M583.0,685.3 Q576.0,693.3 583.0,701.3 Q590.0,693.3 583.0,685.3Z" fill="#c4c4c4"/><path d="M583.0,709.6 Q576.0,717.6 583.0,725.6 Q590.0,717.6 583.0,709.6Z" fill="#c4c4c4"/><path d="M583.0,733.9 Q576.0,741.9 583.0,749.9 Q590.0,741.9 583.0,733.9Z" fill="#c4c4c4"/><path d="M583.0,758.2 Q576.0,766.2 583.0,774.2 Q590.0,766.2 583.0,758.2Z" fill="#c4c4c4"/><path d="M583.0,782.5 Q576.0,790.5 583.0,798.5 Q590.0,790.5 583.0,782.5Z" fill="#c4c4c4"/><path d="M583.0,806.8 Q576.0,814.8 583.0,822.8 Q590.0,814.8 583.0,806.8Z" fill="#c4c4c4"/><path d="M583.0,831.1 Q576.0,839.1 583.0,847.1 Q590.0,839.1 583.0,831.1Z" fill="#c4c4c4"/><path d="M583.0,855.4 Q576.0,863.4 583.0,871.4 Q590.0,863.4 583.0,855.4Z" fill="#c4c4c4"/><path d="M583.0,879.7 Q576.0,887.7 583.0,895.7 Q590.0,887.7 583.0,879.7Z" fill="#c4c4c4"/>
<path d="M617.0,588.1 Q610.0,596.1 617.0,604.1 Q624.0,596.1 617.0,588.1Z" fill="#c4c4c4"/><path d="M617.0,612.4 Q610.0,620.4 617.0,628.4 Q624.0,620.4 617.0,612.4Z" fill="#c4c4c4"/><path d="M617.0,636.7 Q610.0,644.7 617.0,652.7 Q624.0,644.7 617.0,636.7Z" fill="#c4c4c4"/><path d="M617.0,661.0 Q610.0,669.0 617.0,677.0 Q624.0,669.0 617.0,661.0Z" fill="#c4c4c4"/><path d="M617.0,685.3 Q610.0,693.3 617.0,701.3 Q624.0,693.3 617.0,685.3Z" fill="#c4c4c4"/><path d="M617.0,709.6 Q610.0,717.6 617.0,725.6 Q624.0,717.6 617.0,709.6Z" fill="#c4c4c4"/><path d="M617.0,733.9 Q610.0,741.9 617.0,749.9 Q624.0,741.9 617.0,733.9Z" fill="#c4c4c4"/><path d="M617.0,758.2 Q610.0,766.2 617.0,774.2 Q624.0,766.2 617.0,758.2Z" fill="#c4c4c4"/><path d="M617.0,782.5 Q610.0,790.5 617.0,798.5 Q624.0,790.5 617.0,782.5Z" fill="#c4c4c4"/><path d="M617.0,806.8 Q610.0,814.8 617.0,822.8 Q624.0,814.8 617.0,806.8Z" fill="#c4c4c4"/><path d="M617.0,831.1 Q610.0,839.1 617.0,847.1 Q624.0,839.1 617.0,831.1Z" fill="#c4c4c4"/><path d="M617.0,855.4 Q610.0,863.4 617.0,871.4 Q624.0,863.4 617.0,855.4Z" fill="#c4c4c4"/><path d="M617.0,879.7 Q610.0,887.7 617.0,895.7 Q624.0,887.7 617.0,879.7Z" fill="#c4c4c4"/>
<rect x="496" y="686" width="174" height="128" rx="30" fill="#161616" stroke="#0c0c0c" stroke-width="18"/>
<rect x="505" y="695" width="156" height="110" rx="21" fill="url(#bigV)"/>
<path d="M549.0,709.2 Q542.0,717.2 549.0,725.2 Q556.0,717.2 549.0,709.2Z" fill="#c4c4c4"/><path d="M549.0,733.5 Q542.0,741.5 549.0,749.5 Q556.0,741.5 549.0,733.5Z" fill="#c4c4c4"/><path d="M549.0,757.8 Q542.0,765.8 549.0,773.8 Q556.0,765.8 549.0,757.8Z" fill="#c4c4c4"/><path d="M549.0,782.1 Q542.0,790.1 549.0,798.1 Q556.0,790.1 549.0,782.1Z" fill="#c4c4c4"/>
<path d="M583.0,709.2 Q576.0,717.2 583.0,725.2 Q590.0,717.2 583.0,709.2Z" fill="#c4c4c4"/><path d="M583.0,733.5 Q576.0,741.5 583.0,749.5 Q590.0,741.5 583.0,733.5Z" fill="#c4c4c4"/><path d="M583.0,757.8 Q576.0,765.8 583.0,773.8 Q590.0,765.8 583.0,757.8Z" fill="#c4c4c4"/><path d="M583.0,782.1 Q576.0,790.1 583.0,798.1 Q590.0,790.1 583.0,782.1Z" fill="#c4c4c4"/>
<path d="M617.0,709.2 Q610.0,717.2 617.0,725.2 Q624.0,717.2 617.0,709.2Z" fill="#c4c4c4"/><path d="M617.0,733.5 Q610.0,741.5 617.0,749.5 Q624.0,741.5 617.0,733.5Z" fill="#c4c4c4"/><path d="M617.0,757.8 Q610.0,765.8 617.0,773.8 Q624.0,765.8 617.0,757.8Z" fill="#c4c4c4"/><path d="M617.0,782.1 Q610.0,790.1 617.0,798.1 Q624.0,790.1 617.0,782.1Z" fill="#c4c4c4"/>
<rect x="489" y="679" width="188" height="142" rx="36" fill="none" stroke="#333" stroke-width="1.5"/>
<rect x="505" y="695" width="156" height="110" rx="22" fill="none" stroke="#2a2a2a" stroke-width="1.5"/>
</g>
<g clip-path="url(#c3)">
<rect x="529" y="1030" width="111" height="46" fill="url(#bigV)"/>
<path d="M558.0,1032.5 Q555.2,1037.0 558.0,1041.5 Q560.8,1037.0 558.0,1032.5Z" fill="#c8c8c8"/><path d="M558.0,1046.5 Q555.2,1051.0 558.0,1055.5 Q560.8,1051.0 558.0,1046.5Z" fill="#c8c8c8"/><path d="M558.0,1060.5 Q555.2,1065.0 558.0,1069.5 Q560.8,1065.0 558.0,1060.5Z" fill="#c8c8c8"/>
<path d="M584.0,1032.5 Q581.2,1037.0 584.0,1041.5 Q586.8,1037.0 584.0,1032.5Z" fill="#c8c8c8"/><path d="M584.0,1046.5 Q581.2,1051.0 584.0,1055.5 Q586.8,1051.0 584.0,1046.5Z" fill="#c8c8c8"/><path d="M584.0,1060.5 Q581.2,1065.0 584.0,1069.5 Q586.8,1065.0 584.0,1060.5Z" fill="#c8c8c8"/>
<path d="M610.0,1032.5 Q607.2,1037.0 610.0,1041.5 Q612.8,1037.0 610.0,1032.5Z" fill="#c8c8c8"/><path d="M610.0,1046.5 Q607.2,1051.0 610.0,1055.5 Q612.8,1051.0 610.0,1046.5Z" fill="#c8c8c8"/><path d="M610.0,1060.5 Q607.2,1065.0 610.0,1069.5 Q612.8,1065.0 610.0,1060.5Z" fill="#c8c8c8"/>
<path d="M514,1056 C514,1040 522,1034 535,1034 L634,1034 C648,1034 656,1042 655,1056 C654,1080 640,1105 625,1125 C618,1136 612,1142 600,1143 L572,1143 C560,1142 553,1136 546,1126 C530,1104 514,1080 514,1056 Z" fill="#121212"/>
<rect x="529" y="1030" width="111" height="45" fill="url(#bigV)"/>
<path d="M558.0,1033.0 Q553.0,1038.5 558.0,1044.0 Q563.0,1038.5 558.0,1033.0Z" fill="#c4c4c4"/><path d="M558.0,1050.0 Q553.0,1055.5 558.0,1061.0 Q563.0,1055.5 558.0,1050.0Z" fill="#c4c4c4"/><path d="M558.0,1067.0 Q553.0,1072.5 558.0,1078.0 Q563.0,1072.5 558.0,1067.0Z" fill="#c4c4c4"/>
<path d="M584.0,1033.0 Q579.0,1038.5 584.0,1044.0 Q589.0,1038.5 584.0,1033.0Z" fill="#c4c4c4"/><path d="M584.0,1050.0 Q579.0,1055.5 584.0,1061.0 Q589.0,1055.5 584.0,1050.0Z" fill="#c4c4c4"/><path d="M584.0,1067.0 Q579.0,1072.5 584.0,1078.0 Q589.0,1072.5 584.0,1067.0Z" fill="#c4c4c4"/>
<path d="M610.0,1033.0 Q605.0,1038.5 610.0,1044.0 Q615.0,1038.5 610.0,1033.0Z" fill="#c4c4c4"/><path d="M610.0,1050.0 Q605.0,1055.5 610.0,1061.0 Q615.0,1055.5 610.0,1050.0Z" fill="#c4c4c4"/><path d="M610.0,1067.0 Q605.0,1072.5 610.0,1078.0 Q615.0,1072.5 610.0,1067.0Z" fill="#c4c4c4"/>
<path d="M534,1076 C560,1079 610,1079 636,1076 L632,1083 C610,1080 560,1080 538,1083 Z" fill="#fff"/>
<path d="M546,1093 C565,1090 605,1090 628,1093 C622,1102 612,1112 600,1116 L574,1116 C562,1112 552,1102 546,1093 Z" fill="#fff"/>
<rect x="572" y="1107" width="26" height="16" rx="6" fill="#0e0e0e"/>
<rect x="566" y="1121" width="42" height="22" rx="3" fill="#1b1d22"/>
<path d="M557,1144 L608,1144 C612,1152 615,1160 616,1168 C628,1205 641,1255 640,1290 C639,1312 630,1323 614,1323 C594,1323 560,1312 541,1292 C531,1282 526,1272 528,1262 L545,1178 Z" fill="#15171c"/>
<path d="M563,1183 L594,1183 C601,1210 612,1258 615,1288 C614,1297 608,1299 600,1297 C584,1293 566,1283 556,1270 L560,1212 Z" fill="#fff"/>
<rect x="545" y="1183" width="17" height="11" rx="2" fill="#3a3a3a"/>
<rect x="542" y="1193" width="19" height="22" rx="2" fill="#8a8a8a"/>
<rect x="546" y="1194" width="6" height="20" fill="#dcdcdc"/>
<rect x="524" y="1211" width="38" height="55" rx="4" fill="#6a6a6a"/>
<rect x="529" y="1213" width="6" height="51" fill="#c8c8c8"/>
<rect x="541" y="1213" width="6" height="51" fill="#bdbdbd"/>
<rect x="524" y="1222" width="38" height="4" fill="#3a3a3a"/>
<rect x="524" y="1241" width="38" height="7" fill="#444"/>
<rect x="523" y="1236" width="39" height="7" fill="#555"/>
<circle cx="564" cy="1159" r="3" fill="#bbb"/>
<rect x="573" y="1155" width="36" height="12" rx="5" fill="#0c0c0e"/>
</g>
<g clip-path="url(#c4)">
<g transform="translate(1047,571) rotate(-38.4)">
<rect x="150" y="-52" width="280" height="104" fill="url(#bigH)"/>
<path d="M145.8,-25.0 Q151.3,-19.5 156.8,-25.0 Q151.3,-30.5 145.8,-25.0Z" fill="#b4b4b4"/><path d="M165.6,-25.0 Q171.1,-19.5 176.6,-25.0 Q171.1,-30.5 165.6,-25.0Z" fill="#b4b4b4"/><path d="M185.4,-25.0 Q190.9,-19.5 196.4,-25.0 Q190.9,-30.5 185.4,-25.0Z" fill="#b4b4b4"/><path d="M205.2,-25.0 Q210.7,-19.5 216.2,-25.0 Q210.7,-30.5 205.2,-25.0Z" fill="#b4b4b4"/><path d="M225.0,-25.0 Q230.5,-19.5 236.0,-25.0 Q230.5,-30.5 225.0,-25.0Z" fill="#b4b4b4"/><path d="M244.8,-25.0 Q250.3,-19.5 255.8,-25.0 Q250.3,-30.5 244.8,-25.0Z" fill="#b4b4b4"/><path d="M264.6,-25.0 Q270.1,-19.5 275.6,-25.0 Q270.1,-30.5 264.6,-25.0Z" fill="#b4b4b4"/><path d="M284.4,-25.0 Q289.9,-19.5 295.4,-25.0 Q289.9,-30.5 284.4,-25.0Z" fill="#b4b4b4"/><path d="M304.2,-25.0 Q309.7,-19.5 315.2,-25.0 Q309.7,-30.5 304.2,-25.0Z" fill="#b4b4b4"/><path d="M324.0,-25.0 Q329.5,-19.5 335.0,-25.0 Q329.5,-30.5 324.0,-25.0Z" fill="#b4b4b4"/><path d="M343.8,-25.0 Q349.3,-19.5 354.8,-25.0 Q349.3,-30.5 343.8,-25.0Z" fill="#b4b4b4"/><path d="M363.6,-25.0 Q369.1,-19.5 374.6,-25.0 Q369.1,-30.5 363.6,-25.0Z" fill="#b4b4b4"/><path d="M383.4,-25.0 Q388.9,-19.5 394.4,-25.0 Q388.9,-30.5 383.4,-25.0Z" fill="#b4b4b4"/><path d="M403.2,-25.0 Q408.7,-19.5 414.2,-25.0 Q408.7,-30.5 403.2,-25.0Z" fill="#b4b4b4"/><path d="M423.0,-25.0 Q428.5,-19.5 434.0,-25.0 Q428.5,-30.5 423.0,-25.0Z" fill="#b4b4b4"/>
<path d="M145.8,0.0 Q151.3,5.5 156.8,0.0 Q151.3,-5.5 145.8,0.0Z" fill="#b4b4b4"/><path d="M165.6,0.0 Q171.1,5.5 176.6,0.0 Q171.1,-5.5 165.6,0.0Z" fill="#b4b4b4"/><path d="M185.4,0.0 Q190.9,5.5 196.4,0.0 Q190.9,-5.5 185.4,0.0Z" fill="#b4b4b4"/><path d="M205.2,0.0 Q210.7,5.5 216.2,0.0 Q210.7,-5.5 205.2,0.0Z" fill="#b4b4b4"/><path d="M225.0,0.0 Q230.5,5.5 236.0,0.0 Q230.5,-5.5 225.0,0.0Z" fill="#b4b4b4"/><path d="M244.8,0.0 Q250.3,5.5 255.8,0.0 Q250.3,-5.5 244.8,0.0Z" fill="#b4b4b4"/><path d="M264.6,0.0 Q270.1,5.5 275.6,0.0 Q270.1,-5.5 264.6,0.0Z" fill="#b4b4b4"/><path d="M284.4,0.0 Q289.9,5.5 295.4,0.0 Q289.9,-5.5 284.4,0.0Z" fill="#b4b4b4"/><path d="M304.2,0.0 Q309.7,5.5 315.2,0.0 Q309.7,-5.5 304.2,0.0Z" fill="#b4b4b4"/><path d="M324.0,0.0 Q329.5,5.5 335.0,0.0 Q329.5,-5.5 324.0,0.0Z" fill="#b4b4b4"/><path d="M343.8,0.0 Q349.3,5.5 354.8,0.0 Q349.3,-5.5 343.8,0.0Z" fill="#b4b4b4"/><path d="M363.6,0.0 Q369.1,5.5 374.6,0.0 Q369.1,-5.5 363.6,0.0Z" fill="#b4b4b4"/><path d="M383.4,0.0 Q388.9,5.5 394.4,0.0 Q388.9,-5.5 383.4,0.0Z" fill="#b4b4b4"/><path d="M403.2,0.0 Q408.7,5.5 414.2,0.0 Q408.7,-5.5 403.2,0.0Z" fill="#b4b4b4"/><path d="M423.0,0.0 Q428.5,5.5 434.0,0.0 Q428.5,-5.5 423.0,0.0Z" fill="#b4b4b4"/>
<path d="M145.8,25.0 Q151.3,30.5 156.8,25.0 Q151.3,19.5 145.8,25.0Z" fill="#b4b4b4"/><path d="M165.6,25.0 Q171.1,30.5 176.6,25.0 Q171.1,19.5 165.6,25.0Z" fill="#b4b4b4"/><path d="M185.4,25.0 Q190.9,30.5 196.4,25.0 Q190.9,19.5 185.4,25.0Z" fill="#b4b4b4"/><path d="M205.2,25.0 Q210.7,30.5 216.2,25.0 Q210.7,19.5 205.2,25.0Z" fill="#b4b4b4"/><path d="M225.0,25.0 Q230.5,30.5 236.0,25.0 Q230.5,19.5 225.0,25.0Z" fill="#b4b4b4"/><path d="M244.8,25.0 Q250.3,30.5 255.8,25.0 Q250.3,19.5 244.8,25.0Z" fill="#b4b4b4"/><path d="M264.6,25.0 Q270.1,30.5 275.6,25.0 Q270.1,19.5 264.6,25.0Z" fill="#b4b4b4"/><path d="M284.4,25.0 Q289.9,30.5 295.4,25.0 Q289.9,19.5 284.4,25.0Z" fill="#b4b4b4"/><path d="M304.2,25.0 Q309.7,30.5 315.2,25.0 Q309.7,19.5 304.2,25.0Z" fill="#b4b4b4"/><path d="M324.0,25.0 Q329.5,30.5 335.0,25.0 Q329.5,19.5 324.0,25.0Z" fill="#b4b4b4"/><path d="M343.8,25.0 Q349.3,30.5 354.8,25.0 Q349.3,19.5 343.8,25.0Z" fill="#b4b4b4"/><path d="M363.6,25.0 Q369.1,30.5 374.6,25.0 Q369.1,19.5 363.6,25.0Z" fill="#b4b4b4"/><path d="M383.4,25.0 Q388.9,30.5 394.4,25.0 Q388.9,19.5 383.4,25.0Z" fill="#b4b4b4"/><path d="M403.2,25.0 Q408.7,30.5 414.2,25.0 Q408.7,19.5 403.2,25.0Z" fill="#b4b4b4"/><path d="M423.0,25.0 Q428.5,30.5 434.0,25.0 Q428.5,19.5 423.0,25.0Z" fill="#b4b4b4"/>
<rect x="-260" y="-50" width="300" height="118" fill="url(#bigH)"/>
<path d="M-260.3,-28.5 Q-254.8,-23.0 -249.3,-28.5 Q-254.8,-34.0 -260.3,-28.5Z" fill="#b4b4b4"/><path d="M-240.7,-28.5 Q-235.2,-23.0 -229.7,-28.5 Q-235.2,-34.0 -240.7,-28.5Z" fill="#b4b4b4"/><path d="M-221.1,-28.5 Q-215.6,-23.0 -210.1,-28.5 Q-215.6,-34.0 -221.1,-28.5Z" fill="#b4b4b4"/><path d="M-201.5,-28.5 Q-196.0,-23.0 -190.5,-28.5 Q-196.0,-34.0 -201.5,-28.5Z" fill="#b4b4b4"/><path d="M-181.9,-28.5 Q-176.4,-23.0 -170.9,-28.5 Q-176.4,-34.0 -181.9,-28.5Z" fill="#b4b4b4"/><path d="M-162.3,-28.5 Q-156.8,-23.0 -151.3,-28.5 Q-156.8,-34.0 -162.3,-28.5Z" fill="#b4b4b4"/><path d="M-142.7,-28.5 Q-137.2,-23.0 -131.7,-28.5 Q-137.2,-34.0 -142.7,-28.5Z" fill="#b4b4b4"/><path d="M-123.1,-28.5 Q-117.6,-23.0 -112.1,-28.5 Q-117.6,-34.0 -123.1,-28.5Z" fill="#b4b4b4"/><path d="M-103.5,-28.5 Q-98.0,-23.0 -92.5,-28.5 Q-98.0,-34.0 -103.5,-28.5Z" fill="#b4b4b4"/><path d="M-83.9,-28.5 Q-78.4,-23.0 -72.9,-28.5 Q-78.4,-34.0 -83.9,-28.5Z" fill="#b4b4b4"/><path d="M-64.3,-28.5 Q-58.8,-23.0 -53.3,-28.5 Q-58.8,-34.0 -64.3,-28.5Z" fill="#b4b4b4"/><path d="M-44.7,-28.5 Q-39.2,-23.0 -33.7,-28.5 Q-39.2,-34.0 -44.7,-28.5Z" fill="#b4b4b4"/><path d="M-25.1,-28.5 Q-19.6,-23.0 -14.1,-28.5 Q-19.6,-34.0 -25.1,-28.5Z" fill="#b4b4b4"/><path d="M-5.5,-28.5 Q0.0,-23.0 5.5,-28.5 Q0.0,-34.0 -5.5,-28.5Z" fill="#b4b4b4"/><path d="M14.1,-28.5 Q19.6,-23.0 25.1,-28.5 Q19.6,-34.0 14.1,-28.5Z" fill="#b4b4b4"/><path d="M33.7,-28.5 Q39.2,-23.0 44.7,-28.5 Q39.2,-34.0 33.7,-28.5Z" fill="#b4b4b4"/>
<path d="M-260.3,0.0 Q-254.8,5.5 -249.3,0.0 Q-254.8,-5.5 -260.3,0.0Z" fill="#b4b4b4"/><path d="M-240.7,0.0 Q-235.2,5.5 -229.7,0.0 Q-235.2,-5.5 -240.7,0.0Z" fill="#b4b4b4"/><path d="M-221.1,0.0 Q-215.6,5.5 -210.1,0.0 Q-215.6,-5.5 -221.1,0.0Z" fill="#b4b4b4"/><path d="M-201.5,0.0 Q-196.0,5.5 -190.5,0.0 Q-196.0,-5.5 -201.5,0.0Z" fill="#b4b4b4"/><path d="M-181.9,0.0 Q-176.4,5.5 -170.9,0.0 Q-176.4,-5.5 -181.9,0.0Z" fill="#b4b4b4"/><path d="M-162.3,0.0 Q-156.8,5.5 -151.3,0.0 Q-156.8,-5.5 -162.3,0.0Z" fill="#b4b4b4"/><path d="M-142.7,0.0 Q-137.2,5.5 -131.7,0.0 Q-137.2,-5.5 -142.7,0.0Z" fill="#b4b4b4"/><path d="M-123.1,0.0 Q-117.6,5.5 -112.1,0.0 Q-117.6,-5.5 -123.1,0.0Z" fill="#b4b4b4"/><path d="M-103.5,0.0 Q-98.0,5.5 -92.5,0.0 Q-98.0,-5.5 -103.5,0.0Z" fill="#b4b4b4"/><path d="M-83.9,0.0 Q-78.4,5.5 -72.9,0.0 Q-78.4,-5.5 -83.9,0.0Z" fill="#b4b4b4"/><path d="M-64.3,0.0 Q-58.8,5.5 -53.3,0.0 Q-58.8,-5.5 -64.3,0.0Z" fill="#b4b4b4"/><path d="M-44.7,0.0 Q-39.2,5.5 -33.7,0.0 Q-39.2,-5.5 -44.7,0.0Z" fill="#b4b4b4"/><path d="M-25.1,0.0 Q-19.6,5.5 -14.1,0.0 Q-19.6,-5.5 -25.1,0.0Z" fill="#b4b4b4"/><path d="M-5.5,0.0 Q0.0,5.5 5.5,0.0 Q0.0,-5.5 -5.5,0.0Z" fill="#b4b4b4"/><path d="M14.1,0.0 Q19.6,5.5 25.1,0.0 Q19.6,-5.5 14.1,0.0Z" fill="#b4b4b4"/><path d="M33.7,0.0 Q39.2,5.5 44.7,0.0 Q39.2,-5.5 33.7,0.0Z" fill="#b4b4b4"/>
<path d="M-260.3,25.6 Q-254.8,31.1 -249.3,25.6 Q-254.8,20.1 -260.3,25.6Z" fill="#b4b4b4"/><path d="M-240.7,25.6 Q-235.2,31.1 -229.7,25.6 Q-235.2,20.1 -240.7,25.6Z" fill="#b4b4b4"/><path d="M-221.1,25.6 Q-215.6,31.1 -210.1,25.6 Q-215.6,20.1 -221.1,25.6Z" fill="#b4b4b4"/><path d="M-201.5,25.6 Q-196.0,31.1 -190.5,25.6 Q-196.0,20.1 -201.5,25.6Z" fill="#b4b4b4"/><path d="M-181.9,25.6 Q-176.4,31.1 -170.9,25.6 Q-176.4,20.1 -181.9,25.6Z" fill="#b4b4b4"/><path d="M-162.3,25.6 Q-156.8,31.1 -151.3,25.6 Q-156.8,20.1 -162.3,25.6Z" fill="#b4b4b4"/><path d="M-142.7,25.6 Q-137.2,31.1 -131.7,25.6 Q-137.2,20.1 -142.7,25.6Z" fill="#b4b4b4"/><path d="M-123.1,25.6 Q-117.6,31.1 -112.1,25.6 Q-117.6,20.1 -123.1,25.6Z" fill="#b4b4b4"/><path d="M-103.5,25.6 Q-98.0,31.1 -92.5,25.6 Q-98.0,20.1 -103.5,25.6Z" fill="#b4b4b4"/><path d="M-83.9,25.6 Q-78.4,31.1 -72.9,25.6 Q-78.4,20.1 -83.9,25.6Z" fill="#b4b4b4"/><path d="M-64.3,25.6 Q-58.8,31.1 -53.3,25.6 Q-58.8,20.1 -64.3,25.6Z" fill="#b4b4b4"/><path d="M-44.7,25.6 Q-39.2,31.1 -33.7,25.6 Q-39.2,20.1 -44.7,25.6Z" fill="#b4b4b4"/><path d="M-25.1,25.6 Q-19.6,31.1 -14.1,25.6 Q-19.6,20.1 -25.1,25.6Z" fill="#b4b4b4"/><path d="M-5.5,25.6 Q0.0,31.1 5.5,25.6 Q0.0,20.1 -5.5,25.6Z" fill="#b4b4b4"/><path d="M14.1,25.6 Q19.6,31.1 25.1,25.6 Q19.6,20.1 14.1,25.6Z" fill="#b4b4b4"/><path d="M33.7,25.6 Q39.2,31.1 44.7,25.6 Q39.2,20.1 33.7,25.6Z" fill="#b4b4b4"/>
</g>
<polygon points="1130,393 1236,484 1110,616 1014,518" fill="#0c0c0c"/>
<polygon points="1228,491 1236,484 1110,616 1103,609" fill="#444"/>
<polygon points="1112,414 1196,472 1180,492 1098,432" fill="#262626"/>
<polygon points="1097,447 1175,505 1130,564 1053,490" fill="#161616" stroke="#2c2c2c" stroke-width="2"/>
<polygon points="1048,496 1053,490 1130,564 1125,570" fill="#333"/>
</g>
<g clip-path="url(#c5)">
<rect x="1001" y="800" width="248" height="320" fill="url(#hugeV)"/>
<path d="M1065.0,807.3 Q1052.5,825.3 1065.0,843.3 Q1077.5,825.3 1065.0,807.3Z" fill="#d6d6d6"/><path d="M1065.0,850.1 Q1052.5,868.1 1065.0,886.1 Q1077.5,868.1 1065.0,850.1Z" fill="#d6d6d6"/><path d="M1065.0,892.9 Q1052.5,910.9 1065.0,928.9 Q1077.5,910.9 1065.0,892.9Z" fill="#d6d6d6"/><path d="M1065.0,935.7 Q1052.5,953.7 1065.0,971.7 Q1077.5,953.7 1065.0,935.7Z" fill="#d6d6d6"/><path d="M1065.0,978.5 Q1052.5,996.5 1065.0,1014.5 Q1077.5,996.5 1065.0,978.5Z" fill="#d6d6d6"/><path d="M1065.0,1021.3 Q1052.5,1039.3 1065.0,1057.3 Q1077.5,1039.3 1065.0,1021.3Z" fill="#d6d6d6"/><path d="M1065.0,1064.1 Q1052.5,1082.1 1065.0,1100.1 Q1077.5,1082.1 1065.0,1064.1Z" fill="#d6d6d6"/>
<path d="M1123.0,807.3 Q1113.0,825.3 1123.0,843.3 Q1133.0,825.3 1123.0,807.3Z" fill="#d6d6d6"/><path d="M1123.0,850.1 Q1113.0,868.1 1123.0,886.1 Q1133.0,868.1 1123.0,850.1Z" fill="#d6d6d6"/><path d="M1123.0,892.9 Q1113.0,910.9 1123.0,928.9 Q1133.0,910.9 1123.0,892.9Z" fill="#d6d6d6"/><path d="M1123.0,935.7 Q1113.0,953.7 1123.0,971.7 Q1133.0,953.7 1123.0,935.7Z" fill="#d6d6d6"/><path d="M1123.0,978.5 Q1113.0,996.5 1123.0,1014.5 Q1133.0,996.5 1123.0,978.5Z" fill="#d6d6d6"/><path d="M1123.0,1021.3 Q1113.0,1039.3 1123.0,1057.3 Q1133.0,1039.3 1123.0,1021.3Z" fill="#d6d6d6"/><path d="M1123.0,1064.1 Q1113.0,1082.1 1123.0,1100.1 Q1133.0,1082.1 1123.0,1064.1Z" fill="#d6d6d6"/>
<path d="M1181.0,807.3 Q1168.5,825.3 1181.0,843.3 Q1193.5,825.3 1181.0,807.3Z" fill="#d6d6d6"/><path d="M1181.0,850.1 Q1168.5,868.1 1181.0,886.1 Q1193.5,868.1 1181.0,850.1Z" fill="#d6d6d6"/><path d="M1181.0,892.9 Q1168.5,910.9 1181.0,928.9 Q1193.5,910.9 1181.0,892.9Z" fill="#d6d6d6"/><path d="M1181.0,935.7 Q1168.5,953.7 1181.0,971.7 Q1193.5,953.7 1181.0,935.7Z" fill="#d6d6d6"/><path d="M1181.0,978.5 Q1168.5,996.5 1181.0,1014.5 Q1193.5,996.5 1181.0,978.5Z" fill="#d6d6d6"/><path d="M1181.0,1021.3 Q1168.5,1039.3 1181.0,1057.3 Q1193.5,1039.3 1181.0,1021.3Z" fill="#d6d6d6"/><path d="M1181.0,1064.1 Q1168.5,1082.1 1181.0,1100.1 Q1193.5,1082.1 1181.0,1064.1Z" fill="#d6d6d6"/>
</g>
<g fill="none" stroke="#0d3b3e" stroke-width="3.7" stroke-dasharray="14.3 7.3">
<ellipse cx="582.7" cy="265.9" rx="157.6" ry="152.2"/>
<ellipse cx="582.5" cy="749.1" rx="157.6" ry="152.2"/>
<ellipse cx="582.6" cy="1187.4" rx="157.6" ry="152.2"/>
<ellipse cx="1122.3" cy="509.5" rx="157.6" ry="152.2"/>
<ellipse cx="1122.3" cy="960.0" rx="157.6" ry="152.2"/>
</g>
<g fill="none" stroke="#064c54" stroke-width="9.5">
<path d="M144,62 L171,88 M186,100 L218,119 M236,127 Q255,133 272,135 M294,136 Q308,122 299,104 M284,91 Q268,79 250,77 M231,85 Q222,100 218,119 M222,140 Q227,158 236,174 M241,194 Q254,208 270,219 M286,230 Q302,240 320,245 M339,249 L365,254"/>
<path d="M145,679 L179,693 M199,701 L234,706 M255,712 Q274,711 290,702 M297,684 Q284,667 263,665 M242,664 Q222,672 217,689 M223,711 Q232,728 245,742 M255,757 Q270,770 288,779 M306,785 Q325,789 344,789 M363,789 L383,785"/>
<path d="M158,1307 L195,1297 M213,1286 L247,1274 M263,1262 Q275,1246 279,1228 M259,1222 Q240,1225 224,1236 M210,1254 Q217,1266 229,1274 M252,1289 Q270,1296 288,1299 M308,1299 Q327,1296 344,1288 M360,1278 Q376,1266 390,1253"/>
<path d="M1187,59 L1187,95 M1184,116 L1178,147 M1172,171 Q1162,187 1149,199 M1131,202 Q1124,184 1126,165 M1128,144 Q1142,131 1162,128 M1177,147 Q1190,157 1200,170 M1213,188 Q1219,206 1220,225 M1218,245 Q1215,263 1209,280 M1200,299 Q1191,312 1181,323"/>
</g>
<g fill="#064c54">
<polygon points="399,257 369,239 370,269"/>
<polygon points="407,778 380,770 386,797"/>
<polygon points="408,1230 385,1238 404,1253"/>
<polygon points="1168,345 1192,330 1170,317"/>
</g>
<g fill="#111" font-size="43.5" stroke="#fff" stroke-width="1.0" paint-order="fill">
<text transform="translate(399,472.3) skewX(-3)" textLength="359" lengthAdjust="spacingAndGlyphs">Thicken &amp; Enhanced</text>
<text transform="translate(367,526.3) skewX(-3)" textLength="422" lengthAdjust="spacingAndGlyphs">Durable Nylon Webbing</text>
<text transform="translate(410,972.8) skewX(-3)" textLength="391" lengthAdjust="spacingAndGlyphs">Adjustable Metal Glide</text>
<text transform="translate(408,1406.3) skewX(-3)" textLength="331" lengthAdjust="spacingAndGlyphs">Lockable Carabiner</text>
<text transform="translate(940,731.3) skewX(-3)" textLength="366" lengthAdjust="spacingAndGlyphs">Heavy Duty Ratchets</text>
<text transform="translate(961,1194.3) skewX(-3)" textLength="338" lengthAdjust="spacingAndGlyphs">3 Reflective Stitches</text>
</g>
</svg>
</body></html>
